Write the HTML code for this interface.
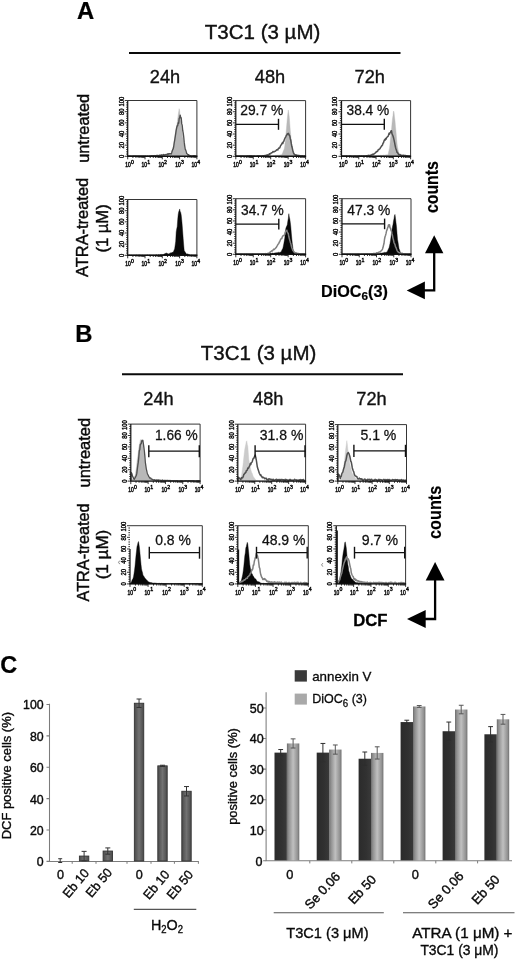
<!DOCTYPE html>
<html lang="en"><head><meta charset="utf-8"><title>Figure</title>
<style>html,body{margin:0;padding:0;background:#fff}body{width:520px;height:959px;overflow:hidden}svg{display:block;font-family:'Liberation Sans', sans-serif}</style></head><body>
<svg width="520" height="959" viewBox="0 0 520 959">
<rect width="520" height="959" fill="#fff"/>
<defs><linearGradient id="gd" x1="0" x2="1" y1="0" y2="0"><stop offset="0" stop-color="#4a4a4a"/><stop offset="0.5" stop-color="#727272"/><stop offset="1" stop-color="#4a4a4a"/></linearGradient><linearGradient id="gk" x1="0" x2="1" y1="0" y2="0"><stop offset="0" stop-color="#2b2b2b"/><stop offset="0.6" stop-color="#313131"/><stop offset="1" stop-color="#393939"/></linearGradient><linearGradient id="gl" x1="0" x2="1" y1="0" y2="0"><stop offset="0" stop-color="#6c6c6c"/><stop offset="0.14" stop-color="#8e8e8e"/><stop offset="0.5" stop-color="#c0c0c0"/><stop offset="0.86" stop-color="#929292"/><stop offset="1" stop-color="#707070"/></linearGradient></defs>
<text x="77.00" y="18.80" font-size="23.5" text-anchor="start" fill="#000" stroke="#000" stroke-width="0.24" font-weight="bold" textLength="17.20" lengthAdjust="spacingAndGlyphs" >A</text>
<text x="204.80" y="39.30" font-size="20.5" text-anchor="start" fill="#111" stroke="#111" stroke-width="0.39" textLength="115.50" lengthAdjust="spacingAndGlyphs" >T3C1 (3 µM)</text>
<line x1="129" y1="53" x2="400.5" y2="53" stroke="#0a0a0a" stroke-width="2"/>
<text x="165.00" y="82.60" font-size="18.2" text-anchor="middle" fill="#111" stroke="#111" stroke-width="0.35" >24h</text>
<text x="270.00" y="82.60" font-size="18.2" text-anchor="middle" fill="#111" stroke="#111" stroke-width="0.35" >48h</text>
<text x="369.80" y="82.60" font-size="18.2" text-anchor="middle" fill="#111" stroke="#111" stroke-width="0.35" >72h</text>
<text x="89.00" y="162.80" font-size="16" text-anchor="start" fill="#0a0a0a" stroke="#0a0a0a" stroke-width="0.42" transform="rotate(-90 89.00 162.80)" textLength="69.00" lengthAdjust="spacingAndGlyphs" >untreated</text>
<text x="88.30" y="277.00" font-size="16" text-anchor="start" fill="#0a0a0a" stroke="#0a0a0a" stroke-width="0.42" transform="rotate(-90 88.30 277.00)" textLength="99.20" lengthAdjust="spacingAndGlyphs" >ATRA-treated</text>
<text x="108.10" y="252.50" font-size="16" text-anchor="start" fill="#0a0a0a" stroke="#0a0a0a" stroke-width="0.42" transform="rotate(-90 108.10 252.50)" textLength="48.20" lengthAdjust="spacingAndGlyphs" >(1 µM)</text>
<g>
<rect x="127.70" y="100.50" width="69.20" height="55.80" fill="#fff"/>
<path d="M127.70 156.30 L127.70 156.02 L128.20 156.03 L128.70 155.86 L129.20 156.10 L129.70 155.91 L130.20 155.96 L130.70 155.96 L131.20 155.87 L131.70 156.08 L132.20 156.04 L132.70 155.83 L133.20 155.98 L133.70 155.83 L134.20 155.94 L134.70 156.06 L135.20 156.07 L135.70 156.04 L136.20 156.08 L136.70 155.81 L137.20 155.86 L137.70 155.90 L138.20 155.87 L138.70 155.89 L139.20 155.95 L139.70 156.04 L140.20 156.04 L140.70 156.05 L141.20 155.80 L141.70 156.04 L142.20 155.91 L142.70 155.81 L143.20 155.91 L143.70 155.77 L144.20 156.03 L144.70 155.99 L145.20 155.78 L145.70 155.97 L146.20 155.73 L146.70 155.73 L147.20 155.81 L147.70 156.00 L148.20 156.01 L148.70 155.74 L149.20 155.71 L149.70 155.84 L150.20 155.74 L150.70 155.98 L151.20 155.99 L151.70 155.79 L152.20 155.85 L152.70 155.86 L153.20 155.87 L153.70 155.81 L154.20 155.89 L154.70 155.77 L155.20 155.81 L155.70 155.67 L156.20 155.84 L156.70 155.86 L157.20 155.67 L157.70 155.79 L158.20 155.72 L158.70 155.76 L159.20 155.39 L159.70 155.82 L160.20 155.48 L160.70 155.30 L161.20 155.24 L161.70 155.34 L162.20 155.14 L162.70 154.82 L163.20 155.19 L163.70 154.84 L164.20 154.72 L164.70 154.84 L165.20 154.52 L165.70 154.65 L166.20 154.60 L166.70 154.38 L167.20 154.69 L167.70 154.45 L168.20 154.29 L168.70 154.24 L169.20 154.54 L169.70 154.25 L170.20 154.32 L170.70 154.09 L171.20 153.53 L171.70 151.75 L172.20 150.44 L172.70 148.83 L173.20 146.75 L173.70 146.00 L174.20 141.65 L174.70 138.66 L175.20 133.90 L175.70 131.11 L176.20 128.05 L176.70 125.83 L177.20 122.88 L177.70 118.99 L178.20 114.98 L178.70 111.85 L179.20 108.67 L179.70 111.51 L180.20 117.44 L180.70 119.75 L181.20 122.92 L181.70 128.24 L182.20 131.91 L182.70 136.72 L183.20 139.80 L183.70 143.07 L184.20 146.76 L184.70 149.32 L185.20 150.53 L185.70 151.73 L186.20 153.92 L186.70 154.94 L187.20 155.20 L187.70 155.28 L188.20 155.11 L188.70 155.36 L189.20 155.45 L189.70 155.91 L190.20 155.92 L190.70 155.86 L191.20 155.97 L191.70 155.88 L192.20 155.89 L192.70 155.97 L193.20 155.90 L193.70 155.87 L194.20 156.00 L194.70 155.92 L195.20 156.00 L195.70 155.95 L196.20 156.05 L196.70 156.06 L196.90 156.30 Z" fill="#b8b8b8" stroke="#b8b8b8" stroke-width="0.4" stroke-linejoin="round"/>
<path d="M127.70 155.83 L128.20 155.85 L128.70 155.97 L129.20 156.13 L129.70 155.87 L130.20 155.90 L130.70 155.83 L131.20 156.20 L131.70 156.13 L132.20 155.85 L132.70 156.06 L133.20 156.15 L133.70 155.80 L134.20 156.07 L134.70 155.85 L135.20 155.82 L135.70 156.15 L136.20 155.91 L136.70 156.02 L137.20 156.15 L137.70 155.96 L138.20 155.97 L138.70 155.92 L139.20 155.79 L139.70 156.07 L140.20 156.02 L140.70 155.93 L141.20 155.85 L141.70 155.87 L142.20 155.90 L142.70 156.11 L143.20 156.03 L143.70 155.81 L144.20 155.89 L144.70 156.05 L145.20 155.93 L145.70 155.99 L146.20 156.10 L146.70 156.20 L147.20 156.20 L147.70 155.92 L148.20 156.11 L148.70 156.20 L149.20 156.14 L149.70 155.87 L150.20 155.83 L150.70 156.17 L151.20 155.71 L151.70 155.76 L152.20 155.80 L152.70 155.66 L153.20 155.75 L153.70 155.59 L154.20 155.62 L154.70 155.55 L155.20 155.70 L155.70 156.12 L156.20 155.67 L156.70 155.50 L157.20 155.52 L157.70 155.47 L158.20 155.47 L158.70 155.84 L159.20 155.42 L159.70 155.23 L160.20 155.12 L160.70 155.64 L161.20 154.84 L161.70 155.15 L162.20 154.91 L162.70 155.06 L163.20 155.08 L163.70 154.44 L164.20 155.10 L164.70 154.98 L165.20 154.74 L165.70 154.59 L166.20 154.42 L166.70 154.52 L167.20 154.72 L167.70 153.78 L168.20 154.50 L168.70 153.64 L169.20 153.59 L169.70 153.97 L170.20 153.61 L170.70 153.77 L171.20 153.98 L171.70 152.67 L172.20 151.04 L172.70 149.71 L173.20 148.91 L173.70 146.49 L174.20 142.93 L174.70 140.05 L175.20 136.91 L175.70 133.64 L176.20 130.10 L176.70 127.75 L177.20 125.67 L177.70 125.70 L178.20 122.61 L178.70 123.19 L179.20 118.42 L179.70 117.74 L180.20 115.12 L180.70 117.83 L181.20 117.76 L181.70 123.65 L182.20 125.33 L182.70 130.46 L183.20 132.86 L183.70 136.76 L184.20 142.14 L184.70 145.93 L185.20 149.17 L185.70 150.05 L186.20 151.64 L186.70 153.71 L187.20 153.91 L187.70 154.67 L188.20 155.02 L188.70 154.66 L189.20 155.59 L189.70 155.72 L190.20 155.70 L190.70 155.74 L191.20 156.06 L191.70 155.90 L192.20 155.92 L192.70 155.82 L193.20 155.65 L193.70 155.77 L194.20 155.71 L194.70 155.77 L195.20 155.79 L195.70 155.91 L196.20 155.93 L196.70 155.81" fill="none" stroke="#4f4f4f" stroke-width="1.35" stroke-linejoin="round"/>
<path d="M127.70 100.50H196.90V156.30" fill="none" stroke="#2a2a2a" stroke-width="0.95"/>
<line x1="127.70" y1="100.50" x2="127.70" y2="156.30" stroke="#1a1a1a" stroke-width="1.25"/>
<line x1="127.10" y1="156.30" x2="197.40" y2="156.30" stroke="#111" stroke-width="1.4"/>
<path d="M127.70 156.30v3.0 M132.91 156.30v1.7 M135.95 156.30v1.7 M138.12 156.30v1.7 M139.79 156.30v1.7 M141.16 156.30v1.7 M142.32 156.30v1.7 M143.32 156.30v1.7 M144.21 156.30v1.7 M145.00 156.30v3.0 M150.21 156.30v1.7 M153.25 156.30v1.7 M155.42 156.30v1.7 M157.09 156.30v1.7 M158.46 156.30v1.7 M159.62 156.30v1.7 M160.62 156.30v1.7 M161.51 156.30v1.7 M162.30 156.30v3.0 M167.51 156.30v1.7 M170.55 156.30v1.7 M172.72 156.30v1.7 M174.39 156.30v1.7 M175.76 156.30v1.7 M176.92 156.30v1.7 M177.92 156.30v1.7 M178.81 156.30v1.7 M179.60 156.30v3.0 M184.81 156.30v1.7 M187.85 156.30v1.7 M190.02 156.30v1.7 M191.69 156.30v1.7 M193.06 156.30v1.7 M194.22 156.30v1.7 M195.22 156.30v1.7 M196.11 156.30v1.7 M196.90 156.30v3.0" stroke="#111" stroke-width="0.85" fill="none"/>
<path d="M127.70 156.30h-3.0 M127.70 154.07h-1.6 M127.70 151.84h-1.6 M127.70 149.60h-1.6 M127.70 147.37h-1.6 M127.70 145.14h-3.0 M127.70 142.91h-1.6 M127.70 140.68h-1.6 M127.70 138.44h-1.6 M127.70 136.21h-1.6 M127.70 133.98h-3.0 M127.70 131.75h-1.6 M127.70 129.52h-1.6 M127.70 127.28h-1.6 M127.70 125.05h-1.6 M127.70 122.82h-3.0 M127.70 120.59h-1.6 M127.70 118.36h-1.6 M127.70 116.12h-1.6 M127.70 113.89h-1.6 M127.70 111.66h-3.0 M127.70 109.43h-1.6 M127.70 107.20h-1.6 M127.70 104.96h-1.6 M127.70 102.73h-1.6 M127.70 100.50h-3.0" stroke="#111" stroke-width="0.85" fill="none"/>
<text x="125.20" y="167.10" font-size="6.9" fill="#0a0a0a" stroke="#0a0a0a" stroke-width="0.5" textLength="5.5" lengthAdjust="spacingAndGlyphs">10</text>
<text x="130.90" y="163.70" font-size="5.5" fill="#0a0a0a" stroke="#0a0a0a" stroke-width="0.42" textLength="2.9" lengthAdjust="spacingAndGlyphs">0</text>
<text x="141.50" y="167.10" font-size="6.9" fill="#0a0a0a" stroke="#0a0a0a" stroke-width="0.5" textLength="5.5" lengthAdjust="spacingAndGlyphs">10</text>
<text x="147.20" y="163.70" font-size="5.5" fill="#0a0a0a" stroke="#0a0a0a" stroke-width="0.42" textLength="2.9" lengthAdjust="spacingAndGlyphs">1</text>
<text x="158.40" y="167.10" font-size="6.9" fill="#0a0a0a" stroke="#0a0a0a" stroke-width="0.5" textLength="5.5" lengthAdjust="spacingAndGlyphs">10</text>
<text x="164.10" y="163.70" font-size="5.5" fill="#0a0a0a" stroke="#0a0a0a" stroke-width="0.42" textLength="2.9" lengthAdjust="spacingAndGlyphs">2</text>
<text x="175.30" y="167.10" font-size="6.9" fill="#0a0a0a" stroke="#0a0a0a" stroke-width="0.5" textLength="5.5" lengthAdjust="spacingAndGlyphs">10</text>
<text x="181.00" y="163.70" font-size="5.5" fill="#0a0a0a" stroke="#0a0a0a" stroke-width="0.42" textLength="2.9" lengthAdjust="spacingAndGlyphs">3</text>
<text x="191.60" y="167.10" font-size="6.9" fill="#0a0a0a" stroke="#0a0a0a" stroke-width="0.5" textLength="5.5" lengthAdjust="spacingAndGlyphs">10</text>
<text x="197.30" y="163.70" font-size="5.5" fill="#0a0a0a" stroke="#0a0a0a" stroke-width="0.42" textLength="2.9" lengthAdjust="spacingAndGlyphs">4</text>
<text x="123.70" y="157.93" font-size="8.0" fill="#0a0a0a" stroke="#0a0a0a" stroke-width="0.4" textLength="3.25" lengthAdjust="spacingAndGlyphs" transform="rotate(-90 123.70 157.93)">0</text>
<text x="123.70" y="148.39" font-size="8.0" fill="#0a0a0a" stroke="#0a0a0a" stroke-width="0.4" textLength="6.50" lengthAdjust="spacingAndGlyphs" transform="rotate(-90 123.70 148.39)">20</text>
<text x="123.70" y="137.23" font-size="8.0" fill="#0a0a0a" stroke="#0a0a0a" stroke-width="0.4" textLength="6.50" lengthAdjust="spacingAndGlyphs" transform="rotate(-90 123.70 137.23)">40</text>
<text x="123.70" y="126.07" font-size="8.0" fill="#0a0a0a" stroke="#0a0a0a" stroke-width="0.4" textLength="6.50" lengthAdjust="spacingAndGlyphs" transform="rotate(-90 123.70 126.07)">60</text>
<text x="123.70" y="114.91" font-size="8.0" fill="#0a0a0a" stroke="#0a0a0a" stroke-width="0.4" textLength="6.50" lengthAdjust="spacingAndGlyphs" transform="rotate(-90 123.70 114.91)">80</text>
<text x="123.70" y="106.38" font-size="8.0" fill="#0a0a0a" stroke="#0a0a0a" stroke-width="0.4" textLength="9.75" lengthAdjust="spacingAndGlyphs" transform="rotate(-90 123.70 106.38)">100</text>
</g>
<g>
<rect x="235.80" y="100.60" width="69.80" height="55.70" fill="#fff"/>
<path d="M235.80 156.30 L235.80 156.07 L236.30 156.13 L236.80 156.12 L237.30 155.99 L237.80 156.03 L238.30 155.87 L238.80 155.92 L239.30 156.01 L239.80 155.91 L240.30 156.12 L240.80 155.88 L241.30 155.87 L241.80 155.87 L242.30 156.10 L242.80 155.90 L243.30 156.08 L243.80 156.12 L244.30 156.03 L244.80 156.11 L245.30 156.11 L245.80 155.91 L246.30 155.87 L246.80 155.84 L247.30 156.00 L247.80 156.03 L248.30 155.91 L248.80 155.95 L249.30 155.96 L249.80 155.83 L250.30 155.81 L250.80 156.06 L251.30 156.05 L251.80 155.98 L252.30 155.83 L252.80 156.09 L253.30 156.03 L253.80 156.08 L254.30 155.91 L254.80 156.03 L255.30 156.03 L255.80 156.05 L256.30 156.08 L256.80 155.90 L257.30 156.06 L257.80 156.07 L258.30 155.88 L258.80 155.84 L259.30 155.84 L259.80 156.08 L260.30 155.80 L260.80 155.93 L261.30 155.85 L261.80 156.02 L262.30 155.90 L262.80 156.06 L263.30 155.93 L263.80 155.81 L264.30 156.05 L264.80 156.00 L265.30 155.90 L265.80 156.03 L266.30 155.90 L266.80 156.01 L267.30 155.89 L267.80 155.98 L268.30 155.85 L268.80 155.80 L269.30 156.06 L269.80 155.94 L270.30 155.86 L270.80 155.84 L271.30 156.01 L271.80 155.99 L272.30 155.90 L272.80 155.83 L273.30 155.80 L273.80 155.58 L274.30 155.60 L274.80 155.68 L275.30 155.37 L275.80 155.28 L276.30 155.28 L276.80 155.31 L277.30 155.24 L277.80 155.11 L278.30 155.15 L278.80 155.13 L279.30 154.96 L279.80 155.07 L280.30 154.79 L280.80 154.94 L281.30 154.63 L281.80 154.74 L282.30 153.60 L282.80 152.51 L283.30 151.12 L283.80 150.03 L284.30 148.67 L284.80 145.81 L285.30 140.97 L285.80 136.22 L286.30 130.25 L286.80 124.30 L287.30 118.66 L287.80 114.07 L288.30 109.99 L288.80 113.55 L289.30 117.31 L289.80 124.26 L290.30 130.99 L290.80 136.00 L291.30 141.28 L291.80 145.59 L292.30 148.49 L292.80 150.28 L293.30 152.27 L293.80 153.55 L294.30 154.75 L294.80 154.71 L295.30 155.17 L295.80 155.63 L296.30 155.49 L296.80 155.65 L297.30 155.93 L297.80 155.80 L298.30 156.03 L298.80 155.90 L299.30 155.87 L299.80 155.89 L300.30 156.06 L300.80 155.87 L301.30 155.94 L301.80 155.90 L302.30 155.95 L302.80 155.96 L303.30 156.01 L303.80 155.92 L304.30 156.08 L304.80 156.01 L305.30 156.13 L305.60 156.30 Z" fill="#b8b8b8" stroke="#b8b8b8" stroke-width="0.4" stroke-linejoin="round"/>
<path d="M235.80 156.14 L236.30 155.89 L236.80 156.09 L237.30 156.12 L237.80 156.12 L238.30 156.14 L238.80 155.96 L239.30 156.08 L239.80 156.03 L240.30 155.89 L240.80 156.08 L241.30 155.92 L241.80 156.14 L242.30 155.97 L242.80 155.87 L243.30 155.90 L243.80 156.03 L244.30 156.08 L244.80 156.20 L245.30 156.00 L245.80 156.09 L246.30 156.21 L246.80 155.95 L247.30 155.91 L247.80 155.81 L248.30 156.00 L248.80 156.08 L249.30 155.87 L249.80 155.84 L250.30 156.17 L250.80 155.78 L251.30 155.78 L251.80 156.19 L252.30 155.91 L252.80 155.95 L253.30 156.23 L253.80 155.98 L254.30 155.95 L254.80 155.87 L255.30 156.17 L255.80 156.17 L256.30 156.15 L256.80 156.00 L257.30 156.09 L257.80 155.82 L258.30 155.89 L258.80 156.13 L259.30 155.79 L259.80 156.05 L260.30 155.89 L260.80 156.19 L261.30 155.97 L261.80 156.04 L262.30 155.95 L262.80 155.73 L263.30 155.73 L263.80 155.65 L264.30 156.09 L264.80 155.47 L265.30 155.37 L265.80 155.46 L266.30 155.77 L266.80 154.90 L267.30 154.86 L267.80 155.42 L268.30 155.05 L268.80 154.89 L269.30 153.70 L269.80 154.29 L270.30 153.40 L270.80 153.38 L271.30 152.87 L271.80 152.63 L272.30 152.60 L272.80 151.76 L273.30 151.45 L273.80 151.88 L274.30 151.70 L274.80 151.17 L275.30 151.23 L275.80 150.78 L276.30 150.36 L276.80 149.67 L277.30 149.79 L277.80 149.90 L278.30 148.50 L278.80 148.07 L279.30 148.14 L279.80 147.88 L280.30 146.24 L280.80 145.32 L281.30 144.73 L281.80 143.93 L282.30 142.78 L282.80 143.55 L283.30 141.78 L283.80 141.21 L284.30 139.71 L284.80 138.52 L285.30 137.51 L285.80 136.88 L286.30 135.37 L286.80 135.06 L287.30 133.87 L287.80 134.12 L288.30 133.32 L288.80 134.00 L289.30 135.38 L289.80 135.80 L290.30 138.69 L290.80 140.30 L291.30 143.72 L291.80 146.27 L292.30 148.18 L292.80 150.60 L293.30 152.31 L293.80 153.61 L294.30 154.09 L294.80 154.74 L295.30 154.66 L295.80 155.39 L296.30 155.30 L296.80 154.94 L297.30 155.76 L297.80 155.76 L298.30 155.49 L298.80 155.70 L299.30 155.41 L299.80 155.91 L300.30 155.76 L300.80 155.96 L301.30 155.94 L301.80 155.73 L302.30 155.72 L302.80 156.08 L303.30 156.10 L303.80 155.90 L304.30 155.87 L304.80 156.12 L305.30 155.86" fill="none" stroke="#4f4f4f" stroke-width="1.5" stroke-linejoin="round"/>
<path d="M235.80 100.60H305.60V156.30" fill="none" stroke="#2a2a2a" stroke-width="0.95"/>
<line x1="235.80" y1="100.60" x2="235.80" y2="156.30" stroke="#1a1a1a" stroke-width="1.25"/>
<line x1="235.20" y1="156.30" x2="306.10" y2="156.30" stroke="#111" stroke-width="1.4"/>
<path d="M235.80 156.30v3.0 M241.05 156.30v1.7 M244.13 156.30v1.7 M246.31 156.30v1.7 M248.00 156.30v1.7 M249.38 156.30v1.7 M250.55 156.30v1.7 M251.56 156.30v1.7 M252.45 156.30v1.7 M253.25 156.30v3.0 M258.50 156.30v1.7 M261.58 156.30v1.7 M263.76 156.30v1.7 M265.45 156.30v1.7 M266.83 156.30v1.7 M268.00 156.30v1.7 M269.01 156.30v1.7 M269.90 156.30v1.7 M270.70 156.30v3.0 M275.95 156.30v1.7 M279.03 156.30v1.7 M281.21 156.30v1.7 M282.90 156.30v1.7 M284.28 156.30v1.7 M285.45 156.30v1.7 M286.46 156.30v1.7 M287.35 156.30v1.7 M288.15 156.30v3.0 M293.40 156.30v1.7 M296.48 156.30v1.7 M298.66 156.30v1.7 M300.35 156.30v1.7 M301.73 156.30v1.7 M302.90 156.30v1.7 M303.91 156.30v1.7 M304.80 156.30v1.7 M305.60 156.30v3.0" stroke="#111" stroke-width="0.85" fill="none"/>
<path d="M235.80 156.30h-3.0 M235.80 154.07h-1.6 M235.80 151.84h-1.6 M235.80 149.62h-1.6 M235.80 147.39h-1.6 M235.80 145.16h-3.0 M235.80 142.93h-1.6 M235.80 140.70h-1.6 M235.80 138.48h-1.6 M235.80 136.25h-1.6 M235.80 134.02h-3.0 M235.80 131.79h-1.6 M235.80 129.56h-1.6 M235.80 127.34h-1.6 M235.80 125.11h-1.6 M235.80 122.88h-3.0 M235.80 120.65h-1.6 M235.80 118.42h-1.6 M235.80 116.20h-1.6 M235.80 113.97h-1.6 M235.80 111.74h-3.0 M235.80 109.51h-1.6 M235.80 107.28h-1.6 M235.80 105.06h-1.6 M235.80 102.83h-1.6 M235.80 100.60h-3.0" stroke="#111" stroke-width="0.85" fill="none"/>
<text x="233.30" y="167.10" font-size="6.9" fill="#0a0a0a" stroke="#0a0a0a" stroke-width="0.5" textLength="5.5" lengthAdjust="spacingAndGlyphs">10</text>
<text x="239.00" y="163.70" font-size="5.5" fill="#0a0a0a" stroke="#0a0a0a" stroke-width="0.42" textLength="2.9" lengthAdjust="spacingAndGlyphs">0</text>
<text x="249.75" y="167.10" font-size="6.9" fill="#0a0a0a" stroke="#0a0a0a" stroke-width="0.5" textLength="5.5" lengthAdjust="spacingAndGlyphs">10</text>
<text x="255.45" y="163.70" font-size="5.5" fill="#0a0a0a" stroke="#0a0a0a" stroke-width="0.42" textLength="2.9" lengthAdjust="spacingAndGlyphs">1</text>
<text x="266.80" y="167.10" font-size="6.9" fill="#0a0a0a" stroke="#0a0a0a" stroke-width="0.5" textLength="5.5" lengthAdjust="spacingAndGlyphs">10</text>
<text x="272.50" y="163.70" font-size="5.5" fill="#0a0a0a" stroke="#0a0a0a" stroke-width="0.42" textLength="2.9" lengthAdjust="spacingAndGlyphs">2</text>
<text x="283.85" y="167.10" font-size="6.9" fill="#0a0a0a" stroke="#0a0a0a" stroke-width="0.5" textLength="5.5" lengthAdjust="spacingAndGlyphs">10</text>
<text x="289.55" y="163.70" font-size="5.5" fill="#0a0a0a" stroke="#0a0a0a" stroke-width="0.42" textLength="2.9" lengthAdjust="spacingAndGlyphs">3</text>
<text x="300.30" y="167.10" font-size="6.9" fill="#0a0a0a" stroke="#0a0a0a" stroke-width="0.5" textLength="5.5" lengthAdjust="spacingAndGlyphs">10</text>
<text x="306.00" y="163.70" font-size="5.5" fill="#0a0a0a" stroke="#0a0a0a" stroke-width="0.42" textLength="2.9" lengthAdjust="spacingAndGlyphs">4</text>
<text x="231.80" y="157.93" font-size="8.0" fill="#0a0a0a" stroke="#0a0a0a" stroke-width="0.4" textLength="3.25" lengthAdjust="spacingAndGlyphs" transform="rotate(-90 231.80 157.93)">0</text>
<text x="231.80" y="148.41" font-size="8.0" fill="#0a0a0a" stroke="#0a0a0a" stroke-width="0.4" textLength="6.50" lengthAdjust="spacingAndGlyphs" transform="rotate(-90 231.80 148.41)">20</text>
<text x="231.80" y="137.27" font-size="8.0" fill="#0a0a0a" stroke="#0a0a0a" stroke-width="0.4" textLength="6.50" lengthAdjust="spacingAndGlyphs" transform="rotate(-90 231.80 137.27)">40</text>
<text x="231.80" y="126.13" font-size="8.0" fill="#0a0a0a" stroke="#0a0a0a" stroke-width="0.4" textLength="6.50" lengthAdjust="spacingAndGlyphs" transform="rotate(-90 231.80 126.13)">60</text>
<text x="231.80" y="114.99" font-size="8.0" fill="#0a0a0a" stroke="#0a0a0a" stroke-width="0.4" textLength="6.50" lengthAdjust="spacingAndGlyphs" transform="rotate(-90 231.80 114.99)">80</text>
<text x="231.80" y="106.47" font-size="8.0" fill="#0a0a0a" stroke="#0a0a0a" stroke-width="0.4" textLength="9.75" lengthAdjust="spacingAndGlyphs" transform="rotate(-90 231.80 106.47)">100</text>
<line x1="235.80" y1="124.30" x2="278.50" y2="124.30" stroke="#111" stroke-width="1.3"/>
<line x1="278.50" y1="118.80" x2="278.50" y2="129.80" stroke="#111" stroke-width="1.4"/>
<text x="240.20" y="115.20" font-size="14.2" text-anchor="start" fill="#111" stroke="#111" stroke-width="0.27" textLength="43.20" lengthAdjust="spacingAndGlyphs" >29.7 %</text>
</g>
<g>
<rect x="341.50" y="100.60" width="69.10" height="55.70" fill="#fff"/>
<path d="M341.50 156.30 L341.50 155.90 L342.00 155.87 L342.50 155.96 L343.00 156.00 L343.50 155.98 L344.00 155.88 L344.50 156.09 L345.00 155.91 L345.50 156.12 L346.00 155.95 L346.50 155.84 L347.00 155.92 L347.50 155.87 L348.00 156.08 L348.50 156.01 L349.00 155.94 L349.50 155.85 L350.00 155.89 L350.50 155.95 L351.00 156.00 L351.50 155.91 L352.00 156.03 L352.50 155.99 L353.00 156.08 L353.50 155.90 L354.00 155.84 L354.50 156.04 L355.00 155.96 L355.50 156.02 L356.00 155.98 L356.50 155.90 L357.00 155.98 L357.50 155.94 L358.00 156.08 L358.50 156.00 L359.00 156.02 L359.50 156.09 L360.00 155.88 L360.50 156.00 L361.00 155.94 L361.50 155.83 L362.00 156.03 L362.50 155.87 L363.00 156.05 L363.50 155.93 L364.00 156.05 L364.50 156.04 L365.00 155.91 L365.50 156.05 L366.00 155.82 L366.50 155.85 L367.00 155.93 L367.50 155.85 L368.00 155.91 L368.50 155.94 L369.00 155.97 L369.50 155.95 L370.00 155.78 L370.50 155.99 L371.00 156.00 L371.50 155.88 L372.00 155.96 L372.50 155.79 L373.00 155.81 L373.50 155.78 L374.00 155.81 L374.50 155.87 L375.00 156.02 L375.50 155.79 L376.00 155.86 L376.50 155.73 L377.00 155.92 L377.50 155.72 L378.00 155.44 L378.50 155.47 L379.00 155.34 L379.50 155.78 L380.00 155.22 L380.50 155.09 L381.00 155.60 L381.50 155.36 L382.00 155.13 L382.50 155.34 L383.00 155.30 L383.50 154.94 L384.00 155.34 L384.50 155.20 L385.00 155.13 L385.50 154.99 L386.00 154.66 L386.50 154.79 L387.00 155.00 L387.50 154.77 L388.00 155.07 L388.50 152.46 L389.00 150.33 L389.50 148.16 L390.00 144.00 L390.50 138.61 L391.00 133.93 L391.50 129.51 L392.00 123.71 L392.50 118.79 L393.00 115.51 L393.50 111.04 L394.00 111.91 L394.50 117.08 L395.00 120.85 L395.50 126.86 L396.00 131.69 L396.50 138.11 L397.00 143.25 L397.50 147.19 L398.00 149.26 L398.50 151.79 L399.00 154.39 L399.50 155.01 L400.00 154.81 L400.50 155.11 L401.00 155.51 L401.50 155.63 L402.00 156.03 L402.50 155.90 L403.00 156.03 L403.50 156.04 L404.00 155.93 L404.50 155.78 L405.00 155.84 L405.50 156.04 L406.00 155.94 L406.50 155.97 L407.00 155.97 L407.50 156.05 L408.00 155.99 L408.50 155.91 L409.00 155.98 L409.50 156.06 L410.00 155.97 L410.50 156.00 L410.60 156.30 Z" fill="#b8b8b8" stroke="#b8b8b8" stroke-width="0.4" stroke-linejoin="round"/>
<path d="M341.50 156.21 L342.00 156.10 L342.50 155.90 L343.00 155.86 L343.50 155.98 L344.00 156.00 L344.50 156.16 L345.00 155.89 L345.50 155.91 L346.00 156.18 L346.50 155.83 L347.00 156.23 L347.50 156.06 L348.00 156.08 L348.50 156.09 L349.00 156.07 L349.50 156.03 L350.00 155.81 L350.50 155.98 L351.00 156.21 L351.50 156.10 L352.00 155.89 L352.50 156.17 L353.00 156.13 L353.50 156.10 L354.00 156.20 L354.50 155.99 L355.00 155.85 L355.50 156.00 L356.00 156.19 L356.50 156.09 L357.00 155.89 L357.50 155.94 L358.00 155.97 L358.50 156.15 L359.00 155.84 L359.50 155.85 L360.00 156.21 L360.50 156.13 L361.00 155.79 L361.50 155.92 L362.00 155.98 L362.50 155.97 L363.00 155.96 L363.50 155.90 L364.00 155.82 L364.50 156.02 L365.00 156.14 L365.50 156.05 L366.00 155.70 L366.50 155.72 L367.00 155.86 L367.50 155.70 L368.00 155.49 L368.50 155.41 L369.00 155.20 L369.50 155.81 L370.00 155.60 L370.50 155.95 L371.00 154.95 L371.50 155.08 L372.00 154.56 L372.50 154.76 L373.00 154.09 L373.50 154.40 L374.00 153.90 L374.50 153.63 L375.00 153.19 L375.50 152.56 L376.00 152.52 L376.50 151.43 L377.00 151.39 L377.50 151.50 L378.00 150.28 L378.50 149.53 L379.00 149.57 L379.50 148.89 L380.00 148.81 L380.50 147.59 L381.00 146.96 L381.50 146.08 L382.00 145.62 L382.50 144.94 L383.00 143.17 L383.50 142.81 L384.00 141.04 L384.50 139.87 L385.00 140.29 L385.50 138.56 L386.00 139.10 L386.50 137.87 L387.00 137.26 L387.50 136.80 L388.00 136.36 L388.50 135.24 L389.00 133.39 L389.50 134.21 L390.00 132.69 L390.50 132.54 L391.00 130.91 L391.50 130.70 L392.00 133.76 L392.50 134.73 L393.00 136.00 L393.50 137.66 L394.00 139.91 L394.50 142.06 L395.00 144.86 L395.50 147.25 L396.00 148.96 L396.50 150.40 L397.00 152.22 L397.50 152.19 L398.00 153.58 L398.50 154.16 L399.00 154.63 L399.50 154.80 L400.00 154.46 L400.50 155.27 L401.00 155.00 L401.50 155.53 L402.00 155.49 L402.50 155.35 L403.00 155.41 L403.50 155.26 L404.00 155.50 L404.50 155.49 L405.00 155.71 L405.50 155.59 L406.00 155.74 L406.50 155.99 L407.00 155.72 L407.50 156.06 L408.00 156.02 L408.50 156.18 L409.00 155.98 L409.50 156.19 L410.00 156.18 L410.50 155.93" fill="none" stroke="#4f4f4f" stroke-width="1.5" stroke-linejoin="round"/>
<path d="M341.50 100.60H410.60V156.30" fill="none" stroke="#2a2a2a" stroke-width="0.95"/>
<line x1="341.50" y1="100.60" x2="341.50" y2="156.30" stroke="#1a1a1a" stroke-width="1.25"/>
<line x1="340.90" y1="156.30" x2="411.10" y2="156.30" stroke="#111" stroke-width="1.4"/>
<path d="M341.50 156.30v3.0 M346.70 156.30v1.7 M349.74 156.30v1.7 M351.90 156.30v1.7 M353.57 156.30v1.7 M354.94 156.30v1.7 M356.10 156.30v1.7 M357.10 156.30v1.7 M357.98 156.30v1.7 M358.77 156.30v3.0 M363.98 156.30v1.7 M367.02 156.30v1.7 M369.18 156.30v1.7 M370.85 156.30v1.7 M372.22 156.30v1.7 M373.37 156.30v1.7 M374.38 156.30v1.7 M375.26 156.30v1.7 M376.05 156.30v3.0 M381.25 156.30v1.7 M384.29 156.30v1.7 M386.45 156.30v1.7 M388.12 156.30v1.7 M389.49 156.30v1.7 M390.65 156.30v1.7 M391.65 156.30v1.7 M392.53 156.30v1.7 M393.33 156.30v3.0 M398.53 156.30v1.7 M401.57 156.30v1.7 M403.73 156.30v1.7 M405.40 156.30v1.7 M406.77 156.30v1.7 M407.92 156.30v1.7 M408.93 156.30v1.7 M409.81 156.30v1.7 M410.60 156.30v3.0" stroke="#111" stroke-width="0.85" fill="none"/>
<path d="M341.50 156.30h-3.0 M341.50 154.07h-1.6 M341.50 151.84h-1.6 M341.50 149.62h-1.6 M341.50 147.39h-1.6 M341.50 145.16h-3.0 M341.50 142.93h-1.6 M341.50 140.70h-1.6 M341.50 138.48h-1.6 M341.50 136.25h-1.6 M341.50 134.02h-3.0 M341.50 131.79h-1.6 M341.50 129.56h-1.6 M341.50 127.34h-1.6 M341.50 125.11h-1.6 M341.50 122.88h-3.0 M341.50 120.65h-1.6 M341.50 118.42h-1.6 M341.50 116.20h-1.6 M341.50 113.97h-1.6 M341.50 111.74h-3.0 M341.50 109.51h-1.6 M341.50 107.28h-1.6 M341.50 105.06h-1.6 M341.50 102.83h-1.6 M341.50 100.60h-3.0" stroke="#111" stroke-width="0.85" fill="none"/>
<text x="339.00" y="167.10" font-size="6.9" fill="#0a0a0a" stroke="#0a0a0a" stroke-width="0.5" textLength="5.5" lengthAdjust="spacingAndGlyphs">10</text>
<text x="344.70" y="163.70" font-size="5.5" fill="#0a0a0a" stroke="#0a0a0a" stroke-width="0.42" textLength="2.9" lengthAdjust="spacingAndGlyphs">0</text>
<text x="355.27" y="167.10" font-size="6.9" fill="#0a0a0a" stroke="#0a0a0a" stroke-width="0.5" textLength="5.5" lengthAdjust="spacingAndGlyphs">10</text>
<text x="360.97" y="163.70" font-size="5.5" fill="#0a0a0a" stroke="#0a0a0a" stroke-width="0.42" textLength="2.9" lengthAdjust="spacingAndGlyphs">1</text>
<text x="372.15" y="167.10" font-size="6.9" fill="#0a0a0a" stroke="#0a0a0a" stroke-width="0.5" textLength="5.5" lengthAdjust="spacingAndGlyphs">10</text>
<text x="377.85" y="163.70" font-size="5.5" fill="#0a0a0a" stroke="#0a0a0a" stroke-width="0.42" textLength="2.9" lengthAdjust="spacingAndGlyphs">2</text>
<text x="389.03" y="167.10" font-size="6.9" fill="#0a0a0a" stroke="#0a0a0a" stroke-width="0.5" textLength="5.5" lengthAdjust="spacingAndGlyphs">10</text>
<text x="394.73" y="163.70" font-size="5.5" fill="#0a0a0a" stroke="#0a0a0a" stroke-width="0.42" textLength="2.9" lengthAdjust="spacingAndGlyphs">3</text>
<text x="405.30" y="167.10" font-size="6.9" fill="#0a0a0a" stroke="#0a0a0a" stroke-width="0.5" textLength="5.5" lengthAdjust="spacingAndGlyphs">10</text>
<text x="411.00" y="163.70" font-size="5.5" fill="#0a0a0a" stroke="#0a0a0a" stroke-width="0.42" textLength="2.9" lengthAdjust="spacingAndGlyphs">4</text>
<text x="337.50" y="157.93" font-size="8.0" fill="#0a0a0a" stroke="#0a0a0a" stroke-width="0.4" textLength="3.25" lengthAdjust="spacingAndGlyphs" transform="rotate(-90 337.50 157.93)">0</text>
<text x="337.50" y="148.41" font-size="8.0" fill="#0a0a0a" stroke="#0a0a0a" stroke-width="0.4" textLength="6.50" lengthAdjust="spacingAndGlyphs" transform="rotate(-90 337.50 148.41)">20</text>
<text x="337.50" y="137.27" font-size="8.0" fill="#0a0a0a" stroke="#0a0a0a" stroke-width="0.4" textLength="6.50" lengthAdjust="spacingAndGlyphs" transform="rotate(-90 337.50 137.27)">40</text>
<text x="337.50" y="126.13" font-size="8.0" fill="#0a0a0a" stroke="#0a0a0a" stroke-width="0.4" textLength="6.50" lengthAdjust="spacingAndGlyphs" transform="rotate(-90 337.50 126.13)">60</text>
<text x="337.50" y="114.99" font-size="8.0" fill="#0a0a0a" stroke="#0a0a0a" stroke-width="0.4" textLength="6.50" lengthAdjust="spacingAndGlyphs" transform="rotate(-90 337.50 114.99)">80</text>
<text x="337.50" y="106.47" font-size="8.0" fill="#0a0a0a" stroke="#0a0a0a" stroke-width="0.4" textLength="9.75" lengthAdjust="spacingAndGlyphs" transform="rotate(-90 337.50 106.47)">100</text>
<line x1="341.50" y1="124.30" x2="384.30" y2="124.30" stroke="#111" stroke-width="1.3"/>
<line x1="384.30" y1="118.80" x2="384.30" y2="129.80" stroke="#111" stroke-width="1.4"/>
<text x="346.60" y="115.20" font-size="14.2" text-anchor="start" fill="#111" stroke="#111" stroke-width="0.27" textLength="42.60" lengthAdjust="spacingAndGlyphs" >38.4 %</text>
</g>
<g>
<rect x="127.70" y="199.50" width="69.20" height="55.80" fill="#fff"/>
<path d="M127.70 255.30 L127.70 254.96 L128.20 255.11 L128.70 255.01 L129.20 254.87 L129.70 255.03 L130.20 254.97 L130.70 254.98 L131.20 254.89 L131.70 254.89 L132.20 255.13 L132.70 255.08 L133.20 255.08 L133.70 254.94 L134.20 255.07 L134.70 254.88 L135.20 254.92 L135.70 255.10 L136.20 255.12 L136.70 254.86 L137.20 255.00 L137.70 254.98 L138.20 254.88 L138.70 254.89 L139.20 255.12 L139.70 254.86 L140.20 255.02 L140.70 254.88 L141.20 255.13 L141.70 254.97 L142.20 254.88 L142.70 254.90 L143.20 255.14 L143.70 255.02 L144.20 254.89 L144.70 255.15 L145.20 254.88 L145.70 255.13 L146.20 255.04 L146.70 254.97 L147.20 255.02 L147.70 254.87 L148.20 255.11 L148.70 254.98 L149.20 255.15 L149.70 254.85 L150.20 254.95 L150.70 254.91 L151.20 254.95 L151.70 255.04 L152.20 255.09 L152.70 255.09 L153.20 255.00 L153.70 254.92 L154.20 254.97 L154.70 255.14 L155.20 254.95 L155.70 254.92 L156.20 254.84 L156.70 254.84 L157.20 255.04 L157.70 255.00 L158.20 254.86 L158.70 254.69 L159.20 254.76 L159.70 254.90 L160.20 254.64 L160.70 254.60 L161.20 254.73 L161.70 254.40 L162.20 254.76 L162.70 254.54 L163.20 254.31 L163.70 254.49 L164.20 254.12 L164.70 253.70 L165.20 253.56 L165.70 253.30 L166.20 253.18 L166.70 253.02 L167.20 253.40 L167.70 253.61 L168.20 253.94 L168.70 253.80 L169.20 253.74 L169.70 253.27 L170.20 253.16 L170.70 252.70 L171.20 252.86 L171.70 252.86 L172.20 252.30 L172.70 252.37 L173.20 252.15 L173.70 251.04 L174.20 249.99 L174.70 248.44 L175.20 244.98 L175.70 241.35 L176.20 231.88 L176.70 228.88 L177.20 226.67 L177.70 219.66 L178.20 214.43 L178.70 211.83 L179.20 210.76 L179.70 208.96 L180.20 211.56 L180.70 212.45 L181.20 214.93 L181.70 219.48 L182.20 225.21 L182.70 232.02 L183.20 238.68 L183.70 245.00 L184.20 250.57 L184.70 251.27 L185.20 252.20 L185.70 252.83 L186.20 253.62 L186.70 254.20 L187.20 253.85 L187.70 253.91 L188.20 254.54 L188.70 254.28 L189.20 254.46 L189.70 254.81 L190.20 254.92 L190.70 255.10 L191.20 255.12 L191.70 254.87 L192.20 254.93 L192.70 255.00 L193.20 255.10 L193.70 254.91 L194.20 254.99 L194.70 255.02 L195.20 254.91 L195.70 254.95 L196.20 255.02 L196.70 255.07 L196.90 255.30 Z" fill="#080808" stroke="#080808" stroke-width="0.4" stroke-linejoin="round"/>
<path d="M127.70 199.50H196.90V255.30" fill="none" stroke="#2a2a2a" stroke-width="0.95"/>
<line x1="127.70" y1="199.50" x2="127.70" y2="255.30" stroke="#1a1a1a" stroke-width="1.25"/>
<line x1="127.10" y1="255.30" x2="197.40" y2="255.30" stroke="#111" stroke-width="1.4"/>
<path d="M127.70 255.30v3.0 M132.91 255.30v1.7 M135.95 255.30v1.7 M138.12 255.30v1.7 M139.79 255.30v1.7 M141.16 255.30v1.7 M142.32 255.30v1.7 M143.32 255.30v1.7 M144.21 255.30v1.7 M145.00 255.30v3.0 M150.21 255.30v1.7 M153.25 255.30v1.7 M155.42 255.30v1.7 M157.09 255.30v1.7 M158.46 255.30v1.7 M159.62 255.30v1.7 M160.62 255.30v1.7 M161.51 255.30v1.7 M162.30 255.30v3.0 M167.51 255.30v1.7 M170.55 255.30v1.7 M172.72 255.30v1.7 M174.39 255.30v1.7 M175.76 255.30v1.7 M176.92 255.30v1.7 M177.92 255.30v1.7 M178.81 255.30v1.7 M179.60 255.30v3.0 M184.81 255.30v1.7 M187.85 255.30v1.7 M190.02 255.30v1.7 M191.69 255.30v1.7 M193.06 255.30v1.7 M194.22 255.30v1.7 M195.22 255.30v1.7 M196.11 255.30v1.7 M196.90 255.30v3.0" stroke="#111" stroke-width="0.85" fill="none"/>
<path d="M127.70 255.30h-3.0 M127.70 253.07h-1.6 M127.70 250.84h-1.6 M127.70 248.60h-1.6 M127.70 246.37h-1.6 M127.70 244.14h-3.0 M127.70 241.91h-1.6 M127.70 239.68h-1.6 M127.70 237.44h-1.6 M127.70 235.21h-1.6 M127.70 232.98h-3.0 M127.70 230.75h-1.6 M127.70 228.52h-1.6 M127.70 226.28h-1.6 M127.70 224.05h-1.6 M127.70 221.82h-3.0 M127.70 219.59h-1.6 M127.70 217.36h-1.6 M127.70 215.12h-1.6 M127.70 212.89h-1.6 M127.70 210.66h-3.0 M127.70 208.43h-1.6 M127.70 206.20h-1.6 M127.70 203.96h-1.6 M127.70 201.73h-1.6 M127.70 199.50h-3.0" stroke="#111" stroke-width="0.85" fill="none"/>
<text x="125.20" y="266.10" font-size="6.9" fill="#0a0a0a" stroke="#0a0a0a" stroke-width="0.5" textLength="5.5" lengthAdjust="spacingAndGlyphs">10</text>
<text x="130.90" y="262.70" font-size="5.5" fill="#0a0a0a" stroke="#0a0a0a" stroke-width="0.42" textLength="2.9" lengthAdjust="spacingAndGlyphs">0</text>
<text x="141.50" y="266.10" font-size="6.9" fill="#0a0a0a" stroke="#0a0a0a" stroke-width="0.5" textLength="5.5" lengthAdjust="spacingAndGlyphs">10</text>
<text x="147.20" y="262.70" font-size="5.5" fill="#0a0a0a" stroke="#0a0a0a" stroke-width="0.42" textLength="2.9" lengthAdjust="spacingAndGlyphs">1</text>
<text x="158.40" y="266.10" font-size="6.9" fill="#0a0a0a" stroke="#0a0a0a" stroke-width="0.5" textLength="5.5" lengthAdjust="spacingAndGlyphs">10</text>
<text x="164.10" y="262.70" font-size="5.5" fill="#0a0a0a" stroke="#0a0a0a" stroke-width="0.42" textLength="2.9" lengthAdjust="spacingAndGlyphs">2</text>
<text x="175.30" y="266.10" font-size="6.9" fill="#0a0a0a" stroke="#0a0a0a" stroke-width="0.5" textLength="5.5" lengthAdjust="spacingAndGlyphs">10</text>
<text x="181.00" y="262.70" font-size="5.5" fill="#0a0a0a" stroke="#0a0a0a" stroke-width="0.42" textLength="2.9" lengthAdjust="spacingAndGlyphs">3</text>
<text x="191.60" y="266.10" font-size="6.9" fill="#0a0a0a" stroke="#0a0a0a" stroke-width="0.5" textLength="5.5" lengthAdjust="spacingAndGlyphs">10</text>
<text x="197.30" y="262.70" font-size="5.5" fill="#0a0a0a" stroke="#0a0a0a" stroke-width="0.42" textLength="2.9" lengthAdjust="spacingAndGlyphs">4</text>
<text x="123.70" y="256.93" font-size="8.0" fill="#0a0a0a" stroke="#0a0a0a" stroke-width="0.4" textLength="3.25" lengthAdjust="spacingAndGlyphs" transform="rotate(-90 123.70 256.93)">0</text>
<text x="123.70" y="247.39" font-size="8.0" fill="#0a0a0a" stroke="#0a0a0a" stroke-width="0.4" textLength="6.50" lengthAdjust="spacingAndGlyphs" transform="rotate(-90 123.70 247.39)">20</text>
<text x="123.70" y="236.23" font-size="8.0" fill="#0a0a0a" stroke="#0a0a0a" stroke-width="0.4" textLength="6.50" lengthAdjust="spacingAndGlyphs" transform="rotate(-90 123.70 236.23)">40</text>
<text x="123.70" y="225.07" font-size="8.0" fill="#0a0a0a" stroke="#0a0a0a" stroke-width="0.4" textLength="6.50" lengthAdjust="spacingAndGlyphs" transform="rotate(-90 123.70 225.07)">60</text>
<text x="123.70" y="213.91" font-size="8.0" fill="#0a0a0a" stroke="#0a0a0a" stroke-width="0.4" textLength="6.50" lengthAdjust="spacingAndGlyphs" transform="rotate(-90 123.70 213.91)">80</text>
<text x="123.70" y="205.38" font-size="8.0" fill="#0a0a0a" stroke="#0a0a0a" stroke-width="0.4" textLength="9.75" lengthAdjust="spacingAndGlyphs" transform="rotate(-90 123.70 205.38)">100</text>
</g>
<g>
<rect x="235.80" y="198.70" width="69.80" height="55.60" fill="#fff"/>
<path d="M235.80 254.30 L235.80 253.98 L236.30 253.91 L236.80 254.09 L237.30 253.90 L237.80 253.95 L238.30 254.14 L238.80 253.86 L239.30 254.03 L239.80 253.94 L240.30 253.98 L240.80 254.05 L241.30 254.08 L241.80 254.14 L242.30 253.86 L242.80 253.90 L243.30 253.94 L243.80 254.12 L244.30 254.02 L244.80 253.87 L245.30 254.10 L245.80 253.92 L246.30 253.86 L246.80 254.10 L247.30 254.01 L247.80 253.89 L248.30 253.96 L248.80 253.88 L249.30 253.88 L249.80 254.10 L250.30 253.97 L250.80 253.92 L251.30 254.04 L251.80 253.89 L252.30 253.90 L252.80 254.09 L253.30 253.99 L253.80 253.98 L254.30 254.07 L254.80 253.95 L255.30 253.99 L255.80 253.97 L256.30 254.05 L256.80 254.01 L257.30 254.00 L257.80 253.87 L258.30 253.99 L258.80 253.98 L259.30 254.01 L259.80 253.90 L260.30 254.14 L260.80 253.86 L261.30 254.02 L261.80 253.88 L262.30 253.97 L262.80 253.94 L263.30 253.90 L263.80 253.88 L264.30 253.98 L264.80 253.80 L265.30 253.92 L265.80 253.70 L266.30 253.79 L266.80 253.73 L267.30 253.66 L267.80 253.92 L268.30 253.84 L268.80 253.81 L269.30 253.82 L269.80 253.80 L270.30 253.35 L270.80 253.25 L271.30 253.68 L271.80 253.33 L272.30 253.18 L272.80 253.04 L273.30 253.41 L273.80 253.27 L274.30 253.06 L274.80 253.08 L275.30 252.77 L275.80 252.92 L276.30 252.58 L276.80 252.91 L277.30 252.69 L277.80 252.53 L278.30 252.24 L278.80 252.40 L279.30 252.39 L279.80 252.39 L280.30 252.19 L280.80 252.10 L281.30 251.45 L281.80 250.27 L282.30 249.29 L282.80 248.39 L283.30 246.15 L283.80 243.80 L284.30 240.86 L284.80 237.97 L285.30 232.07 L285.80 228.61 L286.30 227.03 L286.80 225.97 L287.30 224.75 L287.80 221.14 L288.30 218.49 L288.80 213.70 L289.30 216.93 L289.80 219.10 L290.30 222.45 L290.80 226.78 L291.30 233.06 L291.80 238.48 L292.30 243.48 L292.80 247.20 L293.30 250.59 L293.80 252.26 L294.30 252.22 L294.80 252.83 L295.30 252.52 L295.80 253.04 L296.30 253.21 L296.80 253.39 L297.30 253.93 L297.80 253.76 L298.30 253.90 L298.80 253.90 L299.30 253.77 L299.80 253.85 L300.30 253.88 L300.80 254.06 L301.30 254.00 L301.80 254.13 L302.30 253.95 L302.80 253.87 L303.30 253.95 L303.80 253.86 L304.30 254.04 L304.80 253.91 L305.30 253.86 L305.60 254.30 Z" fill="#080808" stroke="#080808" stroke-width="0.4" stroke-linejoin="round"/>
<path d="M235.80 254.03 L236.30 253.97 L236.80 254.04 L237.30 254.01 L237.80 254.13 L238.30 253.92 L238.80 254.15 L239.30 253.79 L239.80 254.20 L240.30 254.05 L240.80 253.79 L241.30 253.80 L241.80 253.89 L242.30 254.00 L242.80 254.16 L243.30 254.06 L243.80 254.07 L244.30 253.90 L244.80 254.21 L245.30 254.09 L245.80 253.88 L246.30 253.81 L246.80 253.95 L247.30 253.94 L247.80 254.15 L248.30 253.88 L248.80 253.98 L249.30 253.94 L249.80 254.07 L250.30 253.89 L250.80 253.93 L251.30 254.10 L251.80 253.90 L252.30 253.81 L252.80 253.85 L253.30 253.97 L253.80 254.11 L254.30 254.07 L254.80 253.97 L255.30 253.90 L255.80 254.13 L256.30 254.18 L256.80 253.96 L257.30 254.06 L257.80 254.23 L258.30 253.90 L258.80 253.92 L259.30 253.81 L259.80 254.05 L260.30 254.05 L260.80 253.98 L261.30 253.98 L261.80 254.16 L262.30 253.83 L262.80 254.07 L263.30 253.77 L263.80 254.06 L264.30 254.04 L264.80 253.82 L265.30 253.58 L265.80 253.95 L266.30 253.88 L266.80 253.95 L267.30 253.41 L267.80 253.78 L268.30 253.31 L268.80 253.73 L269.30 252.82 L269.80 252.32 L270.30 252.12 L270.80 251.47 L271.30 251.42 L271.80 250.73 L272.30 251.06 L272.80 250.23 L273.30 249.83 L273.80 249.13 L274.30 249.56 L274.80 248.89 L275.30 248.51 L275.80 247.82 L276.30 247.41 L276.80 246.42 L277.30 245.54 L277.80 244.60 L278.30 243.98 L278.80 243.40 L279.30 242.14 L279.80 241.64 L280.30 240.05 L280.80 239.23 L281.30 238.57 L281.80 238.53 L282.30 236.83 L282.80 236.06 L283.30 235.52 L283.80 235.51 L284.30 235.22 L284.80 234.28 L285.30 232.28 L285.80 231.20 L286.30 230.80 L286.80 230.19 L287.30 232.00 L287.80 233.00 L288.30 233.59 L288.80 236.54 L289.30 238.47 L289.80 240.38 L290.30 242.15 L290.80 243.63 L291.30 245.79 L291.80 247.78 L292.30 249.07 L292.80 250.55 L293.30 250.97 L293.80 251.54 L294.30 252.23 L294.80 252.76 L295.30 253.54 L295.80 253.22 L296.30 252.99 L296.80 253.03 L297.30 253.60 L297.80 253.91 L298.30 253.58 L298.80 253.59 L299.30 253.75 L299.80 253.77 L300.30 253.97 L300.80 254.07 L301.30 254.20 L301.80 253.86 L302.30 253.86 L302.80 254.00 L303.30 253.85 L303.80 253.94 L304.30 254.00 L304.80 254.11 L305.30 254.13" fill="none" stroke="#808080" stroke-width="1.5" stroke-linejoin="round"/>
<path d="M235.80 198.70H305.60V254.30" fill="none" stroke="#2a2a2a" stroke-width="0.95"/>
<line x1="235.80" y1="198.70" x2="235.80" y2="254.30" stroke="#1a1a1a" stroke-width="1.25"/>
<line x1="235.20" y1="254.30" x2="306.10" y2="254.30" stroke="#111" stroke-width="1.4"/>
<path d="M235.80 254.30v3.0 M241.05 254.30v1.7 M244.13 254.30v1.7 M246.31 254.30v1.7 M248.00 254.30v1.7 M249.38 254.30v1.7 M250.55 254.30v1.7 M251.56 254.30v1.7 M252.45 254.30v1.7 M253.25 254.30v3.0 M258.50 254.30v1.7 M261.58 254.30v1.7 M263.76 254.30v1.7 M265.45 254.30v1.7 M266.83 254.30v1.7 M268.00 254.30v1.7 M269.01 254.30v1.7 M269.90 254.30v1.7 M270.70 254.30v3.0 M275.95 254.30v1.7 M279.03 254.30v1.7 M281.21 254.30v1.7 M282.90 254.30v1.7 M284.28 254.30v1.7 M285.45 254.30v1.7 M286.46 254.30v1.7 M287.35 254.30v1.7 M288.15 254.30v3.0 M293.40 254.30v1.7 M296.48 254.30v1.7 M298.66 254.30v1.7 M300.35 254.30v1.7 M301.73 254.30v1.7 M302.90 254.30v1.7 M303.91 254.30v1.7 M304.80 254.30v1.7 M305.60 254.30v3.0" stroke="#111" stroke-width="0.85" fill="none"/>
<path d="M235.80 254.30h-3.0 M235.80 252.08h-1.6 M235.80 249.85h-1.6 M235.80 247.63h-1.6 M235.80 245.40h-1.6 M235.80 243.18h-3.0 M235.80 240.96h-1.6 M235.80 238.73h-1.6 M235.80 236.51h-1.6 M235.80 234.28h-1.6 M235.80 232.06h-3.0 M235.80 229.84h-1.6 M235.80 227.61h-1.6 M235.80 225.39h-1.6 M235.80 223.16h-1.6 M235.80 220.94h-3.0 M235.80 218.72h-1.6 M235.80 216.49h-1.6 M235.80 214.27h-1.6 M235.80 212.04h-1.6 M235.80 209.82h-3.0 M235.80 207.60h-1.6 M235.80 205.37h-1.6 M235.80 203.15h-1.6 M235.80 200.92h-1.6 M235.80 198.70h-3.0" stroke="#111" stroke-width="0.85" fill="none"/>
<text x="233.30" y="265.10" font-size="6.9" fill="#0a0a0a" stroke="#0a0a0a" stroke-width="0.5" textLength="5.5" lengthAdjust="spacingAndGlyphs">10</text>
<text x="239.00" y="261.70" font-size="5.5" fill="#0a0a0a" stroke="#0a0a0a" stroke-width="0.42" textLength="2.9" lengthAdjust="spacingAndGlyphs">0</text>
<text x="249.75" y="265.10" font-size="6.9" fill="#0a0a0a" stroke="#0a0a0a" stroke-width="0.5" textLength="5.5" lengthAdjust="spacingAndGlyphs">10</text>
<text x="255.45" y="261.70" font-size="5.5" fill="#0a0a0a" stroke="#0a0a0a" stroke-width="0.42" textLength="2.9" lengthAdjust="spacingAndGlyphs">1</text>
<text x="266.80" y="265.10" font-size="6.9" fill="#0a0a0a" stroke="#0a0a0a" stroke-width="0.5" textLength="5.5" lengthAdjust="spacingAndGlyphs">10</text>
<text x="272.50" y="261.70" font-size="5.5" fill="#0a0a0a" stroke="#0a0a0a" stroke-width="0.42" textLength="2.9" lengthAdjust="spacingAndGlyphs">2</text>
<text x="283.85" y="265.10" font-size="6.9" fill="#0a0a0a" stroke="#0a0a0a" stroke-width="0.5" textLength="5.5" lengthAdjust="spacingAndGlyphs">10</text>
<text x="289.55" y="261.70" font-size="5.5" fill="#0a0a0a" stroke="#0a0a0a" stroke-width="0.42" textLength="2.9" lengthAdjust="spacingAndGlyphs">3</text>
<text x="300.30" y="265.10" font-size="6.9" fill="#0a0a0a" stroke="#0a0a0a" stroke-width="0.5" textLength="5.5" lengthAdjust="spacingAndGlyphs">10</text>
<text x="306.00" y="261.70" font-size="5.5" fill="#0a0a0a" stroke="#0a0a0a" stroke-width="0.42" textLength="2.9" lengthAdjust="spacingAndGlyphs">4</text>
<text x="231.80" y="255.93" font-size="8.0" fill="#0a0a0a" stroke="#0a0a0a" stroke-width="0.4" textLength="3.25" lengthAdjust="spacingAndGlyphs" transform="rotate(-90 231.80 255.93)">0</text>
<text x="231.80" y="246.43" font-size="8.0" fill="#0a0a0a" stroke="#0a0a0a" stroke-width="0.4" textLength="6.50" lengthAdjust="spacingAndGlyphs" transform="rotate(-90 231.80 246.43)">20</text>
<text x="231.80" y="235.31" font-size="8.0" fill="#0a0a0a" stroke="#0a0a0a" stroke-width="0.4" textLength="6.50" lengthAdjust="spacingAndGlyphs" transform="rotate(-90 231.80 235.31)">40</text>
<text x="231.80" y="224.19" font-size="8.0" fill="#0a0a0a" stroke="#0a0a0a" stroke-width="0.4" textLength="6.50" lengthAdjust="spacingAndGlyphs" transform="rotate(-90 231.80 224.19)">60</text>
<text x="231.80" y="213.07" font-size="8.0" fill="#0a0a0a" stroke="#0a0a0a" stroke-width="0.4" textLength="6.50" lengthAdjust="spacingAndGlyphs" transform="rotate(-90 231.80 213.07)">80</text>
<text x="231.80" y="204.57" font-size="8.0" fill="#0a0a0a" stroke="#0a0a0a" stroke-width="0.4" textLength="9.75" lengthAdjust="spacingAndGlyphs" transform="rotate(-90 231.80 204.57)">100</text>
<line x1="235.80" y1="224.10" x2="278.80" y2="224.10" stroke="#111" stroke-width="1.3"/>
<line x1="278.80" y1="218.80" x2="278.80" y2="229.40" stroke="#111" stroke-width="1.4"/>
<text x="241.00" y="214.70" font-size="14.2" text-anchor="start" fill="#111" stroke="#111" stroke-width="0.27" textLength="42.80" lengthAdjust="spacingAndGlyphs" >34.7 %</text>
</g>
<g>
<rect x="342.00" y="198.70" width="69.00" height="55.60" fill="#fff"/>
<path d="M342.00 254.30 L342.00 254.05 L342.50 253.89 L343.00 253.97 L343.50 254.10 L344.00 254.03 L344.50 254.05 L345.00 253.99 L345.50 254.13 L346.00 254.10 L346.50 254.06 L347.00 253.97 L347.50 253.85 L348.00 254.13 L348.50 253.88 L349.00 254.13 L349.50 253.98 L350.00 253.95 L350.50 253.90 L351.00 253.86 L351.50 254.10 L352.00 253.98 L352.50 253.99 L353.00 253.86 L353.50 254.14 L354.00 254.04 L354.50 253.96 L355.00 254.05 L355.50 253.93 L356.00 254.01 L356.50 254.00 L357.00 254.10 L357.50 254.01 L358.00 253.98 L358.50 254.08 L359.00 254.02 L359.50 254.06 L360.00 253.94 L360.50 254.04 L361.00 253.99 L361.50 253.94 L362.00 254.14 L362.50 254.14 L363.00 254.13 L363.50 253.91 L364.00 254.12 L364.50 253.94 L365.00 253.95 L365.50 253.86 L366.00 254.04 L366.50 254.14 L367.00 253.86 L367.50 254.09 L368.00 254.04 L368.50 254.01 L369.00 254.04 L369.50 254.14 L370.00 253.89 L370.50 254.09 L371.00 254.08 L371.50 253.98 L372.00 253.80 L372.50 253.79 L373.00 253.89 L373.50 253.93 L374.00 253.70 L374.50 253.90 L375.00 253.76 L375.50 253.96 L376.00 253.61 L376.50 253.88 L377.00 253.65 L377.50 253.51 L378.00 253.59 L378.50 253.67 L379.00 253.67 L379.50 253.64 L380.00 253.50 L380.50 253.00 L381.00 253.04 L381.50 253.15 L382.00 253.05 L382.50 252.93 L383.00 252.72 L383.50 252.67 L384.00 252.75 L384.50 252.32 L385.00 252.58 L385.50 252.44 L386.00 252.16 L386.50 252.22 L387.00 251.91 L387.50 250.98 L388.00 250.04 L388.50 248.71 L389.00 248.00 L389.50 245.84 L390.00 243.50 L390.50 240.58 L391.00 237.09 L391.50 232.79 L392.00 229.63 L392.50 226.56 L393.00 224.45 L393.50 221.03 L394.00 218.63 L394.50 215.44 L395.00 214.42 L395.50 218.33 L396.00 222.65 L396.50 226.69 L397.00 233.31 L397.50 239.28 L398.00 242.10 L398.50 245.24 L399.00 248.56 L399.50 249.75 L400.00 251.34 L400.50 252.53 L401.00 253.01 L401.50 253.06 L402.00 253.27 L402.50 253.41 L403.00 253.39 L403.50 253.64 L404.00 253.74 L404.50 253.88 L405.00 253.89 L405.50 253.91 L406.00 253.76 L406.50 254.00 L407.00 254.05 L407.50 253.92 L408.00 253.91 L408.50 254.07 L409.00 253.91 L409.50 253.95 L410.00 254.03 L410.50 254.06 L411.00 253.98 L411.00 254.30 Z" fill="#080808" stroke="#080808" stroke-width="0.4" stroke-linejoin="round"/>
<path d="M342.00 254.09 L342.50 254.15 L343.00 253.89 L343.50 253.88 L344.00 253.83 L344.50 253.87 L345.00 253.97 L345.50 254.04 L346.00 253.91 L346.50 254.18 L347.00 254.13 L347.50 254.10 L348.00 254.12 L348.50 254.16 L349.00 254.12 L349.50 253.97 L350.00 253.97 L350.50 253.83 L351.00 254.13 L351.50 254.07 L352.00 254.11 L352.50 254.09 L353.00 253.86 L353.50 254.02 L354.00 253.99 L354.50 253.95 L355.00 254.00 L355.50 253.89 L356.00 253.95 L356.50 254.08 L357.00 253.94 L357.50 254.19 L358.00 253.85 L358.50 254.14 L359.00 253.84 L359.50 254.17 L360.00 254.13 L360.50 254.17 L361.00 254.10 L361.50 254.22 L362.00 254.10 L362.50 254.06 L363.00 254.04 L363.50 254.11 L364.00 253.91 L364.50 254.09 L365.00 253.89 L365.50 254.07 L366.00 254.02 L366.50 253.98 L367.00 253.82 L367.50 254.24 L368.00 253.92 L368.50 254.02 L369.00 253.94 L369.50 254.06 L370.00 253.82 L370.50 254.05 L371.00 253.80 L371.50 253.68 L372.00 253.77 L372.50 253.80 L373.00 253.86 L373.50 253.42 L374.00 253.49 L374.50 253.41 L375.00 253.44 L375.50 253.46 L376.00 253.73 L376.50 252.85 L377.00 252.83 L377.50 253.02 L378.00 252.63 L378.50 252.32 L379.00 252.06 L379.50 251.99 L380.00 252.07 L380.50 251.37 L381.00 250.97 L381.50 250.69 L382.00 249.95 L382.50 249.04 L383.00 247.56 L383.50 245.23 L384.00 243.56 L384.50 239.25 L385.00 236.82 L385.50 235.45 L386.00 233.65 L386.50 231.08 L387.00 229.91 L387.50 228.32 L388.00 226.74 L388.50 224.89 L389.00 226.42 L389.50 224.69 L390.00 227.66 L390.50 228.28 L391.00 230.45 L391.50 231.24 L392.00 233.98 L392.50 235.59 L393.00 238.35 L393.50 240.06 L394.00 242.52 L394.50 243.70 L395.00 244.60 L395.50 246.85 L396.00 247.48 L396.50 248.89 L397.00 250.35 L397.50 251.28 L398.00 251.76 L398.50 252.47 L399.00 252.37 L399.50 253.22 L400.00 252.84 L400.50 253.38 L401.00 253.61 L401.50 253.89 L402.00 253.28 L402.50 253.49 L403.00 253.70 L403.50 253.91 L404.00 253.93 L404.50 253.82 L405.00 253.68 L405.50 253.78 L406.00 253.84 L406.50 254.01 L407.00 253.88 L407.50 254.05 L408.00 254.02 L408.50 253.99 L409.00 253.92 L409.50 253.80 L410.00 253.96 L410.50 254.10 L411.00 254.20" fill="none" stroke="#808080" stroke-width="1.5" stroke-linejoin="round"/>
<path d="M342.00 198.70H411.00V254.30" fill="none" stroke="#2a2a2a" stroke-width="0.95"/>
<line x1="342.00" y1="198.70" x2="342.00" y2="254.30" stroke="#1a1a1a" stroke-width="1.25"/>
<line x1="341.40" y1="254.30" x2="411.50" y2="254.30" stroke="#111" stroke-width="1.4"/>
<path d="M342.00 254.30v3.0 M347.19 254.30v1.7 M350.23 254.30v1.7 M352.39 254.30v1.7 M354.06 254.30v1.7 M355.42 254.30v1.7 M356.58 254.30v1.7 M357.58 254.30v1.7 M358.46 254.30v1.7 M359.25 254.30v3.0 M364.44 254.30v1.7 M367.48 254.30v1.7 M369.64 254.30v1.7 M371.31 254.30v1.7 M372.67 254.30v1.7 M373.83 254.30v1.7 M374.83 254.30v1.7 M375.71 254.30v1.7 M376.50 254.30v3.0 M381.69 254.30v1.7 M384.73 254.30v1.7 M386.89 254.30v1.7 M388.56 254.30v1.7 M389.92 254.30v1.7 M391.08 254.30v1.7 M392.08 254.30v1.7 M392.96 254.30v1.7 M393.75 254.30v3.0 M398.94 254.30v1.7 M401.98 254.30v1.7 M404.14 254.30v1.7 M405.81 254.30v1.7 M407.17 254.30v1.7 M408.33 254.30v1.7 M409.33 254.30v1.7 M410.21 254.30v1.7 M411.00 254.30v3.0" stroke="#111" stroke-width="0.85" fill="none"/>
<path d="M342.00 254.30h-3.0 M342.00 252.08h-1.6 M342.00 249.85h-1.6 M342.00 247.63h-1.6 M342.00 245.40h-1.6 M342.00 243.18h-3.0 M342.00 240.96h-1.6 M342.00 238.73h-1.6 M342.00 236.51h-1.6 M342.00 234.28h-1.6 M342.00 232.06h-3.0 M342.00 229.84h-1.6 M342.00 227.61h-1.6 M342.00 225.39h-1.6 M342.00 223.16h-1.6 M342.00 220.94h-3.0 M342.00 218.72h-1.6 M342.00 216.49h-1.6 M342.00 214.27h-1.6 M342.00 212.04h-1.6 M342.00 209.82h-3.0 M342.00 207.60h-1.6 M342.00 205.37h-1.6 M342.00 203.15h-1.6 M342.00 200.92h-1.6 M342.00 198.70h-3.0" stroke="#111" stroke-width="0.85" fill="none"/>
<text x="339.50" y="265.10" font-size="6.9" fill="#0a0a0a" stroke="#0a0a0a" stroke-width="0.5" textLength="5.5" lengthAdjust="spacingAndGlyphs">10</text>
<text x="345.20" y="261.70" font-size="5.5" fill="#0a0a0a" stroke="#0a0a0a" stroke-width="0.42" textLength="2.9" lengthAdjust="spacingAndGlyphs">0</text>
<text x="355.75" y="265.10" font-size="6.9" fill="#0a0a0a" stroke="#0a0a0a" stroke-width="0.5" textLength="5.5" lengthAdjust="spacingAndGlyphs">10</text>
<text x="361.45" y="261.70" font-size="5.5" fill="#0a0a0a" stroke="#0a0a0a" stroke-width="0.42" textLength="2.9" lengthAdjust="spacingAndGlyphs">1</text>
<text x="372.60" y="265.10" font-size="6.9" fill="#0a0a0a" stroke="#0a0a0a" stroke-width="0.5" textLength="5.5" lengthAdjust="spacingAndGlyphs">10</text>
<text x="378.30" y="261.70" font-size="5.5" fill="#0a0a0a" stroke="#0a0a0a" stroke-width="0.42" textLength="2.9" lengthAdjust="spacingAndGlyphs">2</text>
<text x="389.45" y="265.10" font-size="6.9" fill="#0a0a0a" stroke="#0a0a0a" stroke-width="0.5" textLength="5.5" lengthAdjust="spacingAndGlyphs">10</text>
<text x="395.15" y="261.70" font-size="5.5" fill="#0a0a0a" stroke="#0a0a0a" stroke-width="0.42" textLength="2.9" lengthAdjust="spacingAndGlyphs">3</text>
<text x="405.70" y="265.10" font-size="6.9" fill="#0a0a0a" stroke="#0a0a0a" stroke-width="0.5" textLength="5.5" lengthAdjust="spacingAndGlyphs">10</text>
<text x="411.40" y="261.70" font-size="5.5" fill="#0a0a0a" stroke="#0a0a0a" stroke-width="0.42" textLength="2.9" lengthAdjust="spacingAndGlyphs">4</text>
<text x="338.00" y="255.93" font-size="8.0" fill="#0a0a0a" stroke="#0a0a0a" stroke-width="0.4" textLength="3.25" lengthAdjust="spacingAndGlyphs" transform="rotate(-90 338.00 255.93)">0</text>
<text x="338.00" y="246.43" font-size="8.0" fill="#0a0a0a" stroke="#0a0a0a" stroke-width="0.4" textLength="6.50" lengthAdjust="spacingAndGlyphs" transform="rotate(-90 338.00 246.43)">20</text>
<text x="338.00" y="235.31" font-size="8.0" fill="#0a0a0a" stroke="#0a0a0a" stroke-width="0.4" textLength="6.50" lengthAdjust="spacingAndGlyphs" transform="rotate(-90 338.00 235.31)">40</text>
<text x="338.00" y="224.19" font-size="8.0" fill="#0a0a0a" stroke="#0a0a0a" stroke-width="0.4" textLength="6.50" lengthAdjust="spacingAndGlyphs" transform="rotate(-90 338.00 224.19)">60</text>
<text x="338.00" y="213.07" font-size="8.0" fill="#0a0a0a" stroke="#0a0a0a" stroke-width="0.4" textLength="6.50" lengthAdjust="spacingAndGlyphs" transform="rotate(-90 338.00 213.07)">80</text>
<text x="338.00" y="204.57" font-size="8.0" fill="#0a0a0a" stroke="#0a0a0a" stroke-width="0.4" textLength="9.75" lengthAdjust="spacingAndGlyphs" transform="rotate(-90 338.00 204.57)">100</text>
<line x1="342.00" y1="223.90" x2="384.60" y2="223.90" stroke="#111" stroke-width="1.3"/>
<line x1="384.60" y1="218.60" x2="384.60" y2="229.20" stroke="#111" stroke-width="1.4"/>
<text x="347.30" y="214.70" font-size="14.2" text-anchor="start" fill="#111" stroke="#111" stroke-width="0.27" textLength="43.10" lengthAdjust="spacingAndGlyphs" >47.3 %</text>
</g>
<text x="438.10" y="213.10" font-size="17.5" text-anchor="start" fill="#000" stroke="#000" stroke-width="0.18" font-weight="bold" transform="rotate(-90 438.10 213.10)" textLength="52.00" lengthAdjust="spacingAndGlyphs" >counts</text>
<path d="M434.2 252.3 V290.4 H423.9" fill="none" stroke="#000" stroke-width="2.3" stroke-linejoin="miter"/>
<path d="M434.2 235.2 L425.0 253.3 L443.4 253.3 Z" fill="#000"/>
<path d="M406.7 290.4 L424.9 281.45 L424.9 299.34999999999997 Z" fill="#000"/>
<text x="321" y="297" font-size="16.1" font-weight="bold" stroke="#000" stroke-width="0.2" textLength="66.8" lengthAdjust="spacingAndGlyphs">DiOC<tspan font-size="11.6" dy="3.4">6</tspan><tspan dy="-3.4">(3)</tspan></text>
<text x="75.20" y="342.00" font-size="23.5" text-anchor="start" fill="#000" stroke="#000" stroke-width="0.24" font-weight="bold" textLength="17.20" lengthAdjust="spacingAndGlyphs" >B</text>
<text x="200.80" y="359.60" font-size="20.5" text-anchor="start" fill="#111" stroke="#111" stroke-width="0.39" textLength="115.50" lengthAdjust="spacingAndGlyphs" >T3C1 (3 µM)</text>
<line x1="122" y1="374.2" x2="403" y2="374.2" stroke="#0a0a0a" stroke-width="2"/>
<text x="158.50" y="405.00" font-size="18.2" text-anchor="middle" fill="#111" stroke="#111" stroke-width="0.35" >24h</text>
<text x="268.20" y="405.00" font-size="18.2" text-anchor="middle" fill="#111" stroke="#111" stroke-width="0.35" >48h</text>
<text x="371.50" y="405.00" font-size="18.2" text-anchor="middle" fill="#111" stroke="#111" stroke-width="0.35" >72h</text>
<text x="89.50" y="487.50" font-size="16" text-anchor="start" fill="#0a0a0a" stroke="#0a0a0a" stroke-width="0.42" transform="rotate(-90 89.50 487.50)" textLength="69.60" lengthAdjust="spacingAndGlyphs" >untreated</text>
<text x="89.40" y="601.40" font-size="16" text-anchor="start" fill="#0a0a0a" stroke="#0a0a0a" stroke-width="0.42" transform="rotate(-90 89.40 601.40)" textLength="98.00" lengthAdjust="spacingAndGlyphs" >ATRA-treated</text>
<text x="108.20" y="579.30" font-size="16" text-anchor="start" fill="#0a0a0a" stroke="#0a0a0a" stroke-width="0.42" transform="rotate(-90 108.20 579.30)" textLength="49.60" lengthAdjust="spacingAndGlyphs" >(1 µM)</text>
<g>
<rect x="130.80" y="424.10" width="69.30" height="57.00" fill="#fff"/>
<path d="M130.80 481.10 L130.80 480.86 L131.30 478.04 L131.80 478.73 L132.30 478.87 L132.80 479.17 L133.30 478.95 L133.80 477.72 L134.30 476.81 L134.80 475.96 L135.30 475.10 L135.80 471.62 L136.30 468.25 L136.80 463.66 L137.30 458.80 L137.80 456.14 L138.30 452.22 L138.80 448.00 L139.30 445.08 L139.80 443.05 L140.30 440.18 L140.80 439.56 L141.30 439.59 L141.80 441.16 L142.30 442.63 L142.80 446.12 L143.30 448.42 L143.80 453.11 L144.30 459.18 L144.80 464.40 L145.30 466.76 L145.80 470.50 L146.30 473.47 L146.80 474.57 L147.30 475.54 L147.80 476.43 L148.30 477.15 L148.80 477.61 L149.30 478.31 L149.80 478.40 L150.30 478.40 L150.80 479.16 L151.30 479.07 L151.80 479.56 L152.30 479.88 L152.80 480.04 L153.30 479.82 L153.80 479.86 L154.30 479.84 L154.80 479.83 L155.30 480.37 L155.80 480.20 L156.30 480.03 L156.80 480.29 L157.30 480.29 L157.80 480.54 L158.30 480.73 L158.80 480.59 L159.30 480.75 L159.80 480.68 L160.30 480.54 L160.80 480.69 L161.30 480.63 L161.80 480.65 L162.30 480.55 L162.80 480.55 L163.30 480.47 L163.80 480.76 L164.30 480.68 L164.80 480.73 L165.30 480.56 L165.80 480.78 L166.30 480.51 L166.80 480.53 L167.30 480.65 L167.80 480.77 L168.30 480.53 L168.80 480.60 L169.30 480.57 L169.80 480.57 L170.30 480.73 L170.80 480.52 L171.30 480.77 L171.80 480.74 L172.30 480.67 L172.80 480.76 L173.30 480.75 L173.80 480.74 L174.30 480.55 L174.80 480.63 L175.30 480.61 L175.80 480.70 L176.30 480.55 L176.80 480.69 L177.30 480.82 L177.80 480.76 L178.30 480.71 L178.80 480.81 L179.30 480.64 L179.80 480.86 L180.30 480.59 L180.80 480.82 L181.30 480.69 L181.80 480.57 L182.30 480.69 L182.80 480.68 L183.30 480.64 L183.80 480.72 L184.30 480.79 L184.80 480.78 L185.30 480.65 L185.80 480.73 L186.30 480.87 L186.80 480.74 L187.30 480.80 L187.80 480.81 L188.30 480.82 L188.80 480.85 L189.30 480.80 L189.80 480.88 L190.30 480.79 L190.80 480.89 L191.30 480.60 L191.80 480.71 L192.30 480.66 L192.80 480.64 L193.30 480.91 L193.80 480.75 L194.30 480.92 L194.80 480.68 L195.30 480.82 L195.80 480.70 L196.30 480.72 L196.80 480.89 L197.30 480.85 L197.80 480.83 L198.30 480.76 L198.80 480.77 L199.30 480.83 L199.80 480.71 L200.10 481.10 Z" fill="#b8b8b8" stroke="#b8b8b8" stroke-width="0.4" stroke-linejoin="round"/>
<path d="M130.80 480.63 L131.30 472.67 L131.80 473.51 L132.30 475.25 L132.80 476.88 L133.30 477.72 L133.80 478.87 L134.30 479.35 L134.80 478.15 L135.30 477.57 L135.80 476.39 L136.30 475.52 L136.80 473.39 L137.30 469.07 L137.80 465.33 L138.30 462.13 L138.80 457.14 L139.30 450.77 L139.80 449.71 L140.30 444.51 L140.80 443.93 L141.30 443.45 L141.80 440.65 L142.30 441.00 L142.80 440.21 L143.30 443.30 L143.80 446.82 L144.30 450.77 L144.80 455.60 L145.30 462.32 L145.80 465.71 L146.30 469.04 L146.80 471.19 L147.30 473.77 L147.80 474.47 L148.30 475.68 L148.80 476.65 L149.30 477.27 L149.80 478.17 L150.30 477.92 L150.80 478.09 L151.30 479.16 L151.80 479.06 L152.30 479.43 L152.80 479.71 L153.30 479.87 L153.80 479.97 L154.30 479.68 L154.80 480.15 L155.30 480.34 L155.80 480.06 L156.30 479.93 L156.80 480.34 L157.30 480.01 L157.80 480.72 L158.30 480.00 L158.80 480.20 L159.30 480.10 L159.80 480.07 L160.30 480.18 L160.80 480.67 L161.30 480.74 L161.80 480.39 L162.30 480.05 L162.80 480.50 L163.30 480.63 L163.80 480.50 L164.30 480.43 L164.80 480.36 L165.30 480.40 L165.80 480.62 L166.30 480.60 L166.80 480.39 L167.30 480.40 L167.80 480.39 L168.30 480.85 L168.80 480.51 L169.30 480.50 L169.80 480.84 L170.30 480.45 L170.80 480.76 L171.30 480.85 L171.80 480.73 L172.30 480.89 L172.80 480.61 L173.30 480.61 L173.80 480.77 L174.30 480.92 L174.80 480.64 L175.30 480.97 L175.80 480.74 L176.30 480.66 L176.80 480.61 L177.30 480.68 L177.80 481.01 L178.30 480.83 L178.80 480.84 L179.30 480.92 L179.80 481.01 L180.30 480.93 L180.80 480.61 L181.30 480.67 L181.80 481.00 L182.30 480.75 L182.80 480.90 L183.30 481.02 L183.80 480.89 L184.30 480.93 L184.80 480.72 L185.30 480.69 L185.80 481.00 L186.30 480.59 L186.80 480.63 L187.30 480.73 L187.80 480.80 L188.30 480.74 L188.80 480.71 L189.30 480.97 L189.80 480.73 L190.30 481.01 L190.80 480.67 L191.30 480.69 L191.80 480.64 L192.30 481.03 L192.80 480.62 L193.30 480.94 L193.80 480.61 L194.30 480.75 L194.80 480.83 L195.30 480.86 L195.80 480.89 L196.30 480.87 L196.80 480.71 L197.30 480.62 L197.80 480.79 L198.30 480.67 L198.80 480.86 L199.30 480.58 L199.80 480.83" fill="none" stroke="#4f4f4f" stroke-width="1.35" stroke-linejoin="round"/>
<path d="M130.80 424.10H200.10V481.10" fill="none" stroke="#2a2a2a" stroke-width="0.95"/>
<line x1="130.80" y1="424.10" x2="130.80" y2="481.10" stroke="#1a1a1a" stroke-width="1.25"/>
<line x1="130.20" y1="481.10" x2="200.60" y2="481.10" stroke="#111" stroke-width="1.4"/>
<path d="M130.80 481.10v3.0 M136.02 481.10v1.7 M139.07 481.10v1.7 M141.23 481.10v1.7 M142.91 481.10v1.7 M144.28 481.10v1.7 M145.44 481.10v1.7 M146.45 481.10v1.7 M147.33 481.10v1.7 M148.12 481.10v3.0 M153.34 481.10v1.7 M156.39 481.10v1.7 M158.56 481.10v1.7 M160.23 481.10v1.7 M161.61 481.10v1.7 M162.77 481.10v1.7 M163.77 481.10v1.7 M164.66 481.10v1.7 M165.45 481.10v3.0 M170.67 481.10v1.7 M173.72 481.10v1.7 M175.88 481.10v1.7 M177.56 481.10v1.7 M178.93 481.10v1.7 M180.09 481.10v1.7 M181.10 481.10v1.7 M181.98 481.10v1.7 M182.78 481.10v3.0 M187.99 481.10v1.7 M191.04 481.10v1.7 M193.21 481.10v1.7 M194.88 481.10v1.7 M196.26 481.10v1.7 M197.42 481.10v1.7 M198.42 481.10v1.7 M199.31 481.10v1.7 M200.10 481.10v3.0" stroke="#111" stroke-width="0.85" fill="none"/>
<path d="M130.80 481.10h-3.0 M130.80 478.82h-1.6 M130.80 476.54h-1.6 M130.80 474.26h-1.6 M130.80 471.98h-1.6 M130.80 469.70h-3.0 M130.80 467.42h-1.6 M130.80 465.14h-1.6 M130.80 462.86h-1.6 M130.80 460.58h-1.6 M130.80 458.30h-3.0 M130.80 456.02h-1.6 M130.80 453.74h-1.6 M130.80 451.46h-1.6 M130.80 449.18h-1.6 M130.80 446.90h-3.0 M130.80 444.62h-1.6 M130.80 442.34h-1.6 M130.80 440.06h-1.6 M130.80 437.78h-1.6 M130.80 435.50h-3.0 M130.80 433.22h-1.6 M130.80 430.94h-1.6 M130.80 428.66h-1.6 M130.80 426.38h-1.6 M130.80 424.10h-3.0" stroke="#111" stroke-width="0.85" fill="none"/>
<text x="128.30" y="491.90" font-size="6.9" fill="#0a0a0a" stroke="#0a0a0a" stroke-width="0.5" textLength="5.5" lengthAdjust="spacingAndGlyphs">10</text>
<text x="134.00" y="488.50" font-size="5.5" fill="#0a0a0a" stroke="#0a0a0a" stroke-width="0.42" textLength="2.9" lengthAdjust="spacingAndGlyphs">0</text>
<text x="144.62" y="491.90" font-size="6.9" fill="#0a0a0a" stroke="#0a0a0a" stroke-width="0.5" textLength="5.5" lengthAdjust="spacingAndGlyphs">10</text>
<text x="150.33" y="488.50" font-size="5.5" fill="#0a0a0a" stroke="#0a0a0a" stroke-width="0.42" textLength="2.9" lengthAdjust="spacingAndGlyphs">1</text>
<text x="161.55" y="491.90" font-size="6.9" fill="#0a0a0a" stroke="#0a0a0a" stroke-width="0.5" textLength="5.5" lengthAdjust="spacingAndGlyphs">10</text>
<text x="167.25" y="488.50" font-size="5.5" fill="#0a0a0a" stroke="#0a0a0a" stroke-width="0.42" textLength="2.9" lengthAdjust="spacingAndGlyphs">2</text>
<text x="178.47" y="491.90" font-size="6.9" fill="#0a0a0a" stroke="#0a0a0a" stroke-width="0.5" textLength="5.5" lengthAdjust="spacingAndGlyphs">10</text>
<text x="184.18" y="488.50" font-size="5.5" fill="#0a0a0a" stroke="#0a0a0a" stroke-width="0.42" textLength="2.9" lengthAdjust="spacingAndGlyphs">3</text>
<text x="194.80" y="491.90" font-size="6.9" fill="#0a0a0a" stroke="#0a0a0a" stroke-width="0.5" textLength="5.5" lengthAdjust="spacingAndGlyphs">10</text>
<text x="200.50" y="488.50" font-size="5.5" fill="#0a0a0a" stroke="#0a0a0a" stroke-width="0.42" textLength="2.9" lengthAdjust="spacingAndGlyphs">4</text>
<text x="126.80" y="482.73" font-size="8.0" fill="#0a0a0a" stroke="#0a0a0a" stroke-width="0.4" textLength="3.25" lengthAdjust="spacingAndGlyphs" transform="rotate(-90 126.80 482.73)">0</text>
<text x="126.80" y="472.95" font-size="8.0" fill="#0a0a0a" stroke="#0a0a0a" stroke-width="0.4" textLength="6.50" lengthAdjust="spacingAndGlyphs" transform="rotate(-90 126.80 472.95)">20</text>
<text x="126.80" y="461.55" font-size="8.0" fill="#0a0a0a" stroke="#0a0a0a" stroke-width="0.4" textLength="6.50" lengthAdjust="spacingAndGlyphs" transform="rotate(-90 126.80 461.55)">40</text>
<text x="126.80" y="450.15" font-size="8.0" fill="#0a0a0a" stroke="#0a0a0a" stroke-width="0.4" textLength="6.50" lengthAdjust="spacingAndGlyphs" transform="rotate(-90 126.80 450.15)">60</text>
<text x="126.80" y="438.75" font-size="8.0" fill="#0a0a0a" stroke="#0a0a0a" stroke-width="0.4" textLength="6.50" lengthAdjust="spacingAndGlyphs" transform="rotate(-90 126.80 438.75)">80</text>
<text x="126.80" y="429.98" font-size="8.0" fill="#0a0a0a" stroke="#0a0a0a" stroke-width="0.4" textLength="9.75" lengthAdjust="spacingAndGlyphs" transform="rotate(-90 126.80 429.98)">100</text>
<line x1="148.80" y1="451.20" x2="199.40" y2="451.20" stroke="#111" stroke-width="1.3"/>
<line x1="148.80" y1="445.20" x2="148.80" y2="457.20" stroke="#111" stroke-width="1.4"/>
<line x1="199.30" y1="445.20" x2="199.30" y2="457.20" stroke="#111" stroke-width="1.4"/>
<text x="155.00" y="440.30" font-size="14.2" text-anchor="start" fill="#111" stroke="#111" stroke-width="0.27" textLength="42.60" lengthAdjust="spacingAndGlyphs" >1.66 %</text>
</g>
<g>
<rect x="237.80" y="424.20" width="67.80" height="56.90" fill="#fff"/>
<path d="M237.80 481.10 L237.80 480.93 L238.30 480.59 L238.80 480.61 L239.30 480.17 L239.80 480.02 L240.30 479.68 L240.80 479.12 L241.30 477.00 L241.80 473.70 L242.30 469.84 L242.80 466.40 L243.30 462.51 L243.80 457.41 L244.30 452.93 L244.80 449.10 L245.30 446.61 L245.80 444.27 L246.30 441.43 L246.80 440.82 L247.30 444.45 L247.80 446.32 L248.30 452.78 L248.80 459.20 L249.30 462.36 L249.80 464.78 L250.30 467.27 L250.80 469.69 L251.30 471.36 L251.80 472.70 L252.30 473.58 L252.80 475.24 L253.30 476.42 L253.80 477.56 L254.30 477.85 L254.80 478.69 L255.30 479.34 L255.80 479.94 L256.30 480.59 L256.80 480.28 L257.30 480.38 L257.80 480.42 L258.30 480.53 L258.80 480.83 L259.30 480.67 L259.80 480.77 L260.30 480.99 L260.80 480.88 L261.30 480.88 L261.80 481.02 L262.30 481.01 L262.80 480.87 L263.30 480.99 L263.80 480.81 L264.30 480.87 L264.80 480.90 L265.30 480.99 L265.80 480.93 L266.30 480.91 L266.80 480.81 L267.30 480.75 L267.80 480.89 L268.30 480.90 L268.80 480.87 L269.30 480.73 L269.80 480.97 L270.30 480.99 L270.80 480.93 L271.30 480.86 L271.80 480.75 L272.30 480.87 L272.80 480.88 L273.30 480.88 L273.80 480.99 L274.30 480.99 L274.80 480.86 L275.30 480.92 L275.80 480.80 L276.30 480.82 L276.80 481.00 L277.30 480.83 L277.80 480.96 L278.30 480.88 L278.80 480.79 L279.30 480.78 L279.80 480.96 L280.30 480.74 L280.80 480.74 L281.30 480.84 L281.80 480.78 L282.30 480.77 L282.80 480.89 L283.30 480.95 L283.80 480.81 L284.30 480.95 L284.80 480.92 L285.30 480.90 L285.80 480.72 L286.30 480.88 L286.80 480.99 L287.30 480.74 L287.80 480.88 L288.30 480.91 L288.80 480.90 L289.30 480.92 L289.80 480.86 L290.30 480.78 L290.80 480.71 L291.30 480.74 L291.80 480.78 L292.30 480.84 L292.80 480.80 L293.30 480.87 L293.80 480.95 L294.30 480.94 L294.80 480.96 L295.30 480.79 L295.80 480.92 L296.30 480.79 L296.80 480.89 L297.30 480.73 L297.80 480.69 L298.30 480.80 L298.80 480.84 L299.30 480.74 L299.80 480.87 L300.30 480.71 L300.80 480.83 L301.30 480.81 L301.80 480.79 L302.30 480.93 L302.80 480.85 L303.30 480.67 L303.80 480.77 L304.30 480.67 L304.80 480.77 L305.30 480.87 L305.60 481.10 Z" fill="#cbcbcb" stroke="#cbcbcb" stroke-width="0.4" stroke-linejoin="round"/>
<path d="M237.80 481.05 L238.30 477.34 L238.80 477.45 L239.30 478.21 L239.80 478.72 L240.30 479.31 L240.80 479.46 L241.30 477.72 L241.80 478.58 L242.30 477.25 L242.80 477.52 L243.30 476.50 L243.80 474.43 L244.30 474.09 L244.80 473.23 L245.30 473.00 L245.80 472.53 L246.30 470.78 L246.80 470.59 L247.30 469.97 L247.80 468.06 L248.30 468.39 L248.80 467.69 L249.30 466.26 L249.80 465.78 L250.30 463.43 L250.80 464.46 L251.30 462.49 L251.80 462.49 L252.30 461.50 L252.80 459.48 L253.30 458.23 L253.80 458.46 L254.30 456.95 L254.80 455.73 L255.30 455.08 L255.80 457.77 L256.30 460.00 L256.80 463.33 L257.30 466.82 L257.80 468.42 L258.30 470.11 L258.80 471.59 L259.30 473.22 L259.80 474.22 L260.30 475.20 L260.80 474.76 L261.30 476.31 L261.80 476.55 L262.30 477.75 L262.80 477.29 L263.30 477.27 L263.80 477.62 L264.30 478.11 L264.80 478.79 L265.30 478.46 L265.80 478.19 L266.30 478.33 L266.80 479.48 L267.30 479.74 L267.80 479.41 L268.30 479.90 L268.80 478.69 L269.30 478.94 L269.80 478.90 L270.30 479.57 L270.80 479.24 L271.30 479.57 L271.80 479.53 L272.30 480.17 L272.80 479.45 L273.30 479.27 L273.80 480.52 L274.30 480.38 L274.80 480.03 L275.30 479.58 L275.80 480.01 L276.30 479.46 L276.80 479.27 L277.30 480.65 L277.80 479.87 L278.30 480.32 L278.80 479.38 L279.30 479.47 L279.80 480.24 L280.30 479.56 L280.80 480.22 L281.30 479.52 L281.80 479.56 L282.30 479.98 L282.80 479.52 L283.30 480.04 L283.80 479.71 L284.30 480.46 L284.80 479.93 L285.30 479.36 L285.80 480.61 L286.30 479.91 L286.80 479.58 L287.30 480.04 L287.80 480.50 L288.30 480.43 L288.80 480.09 L289.30 479.55 L289.80 480.26 L290.30 479.49 L290.80 480.54 L291.30 480.01 L291.80 480.33 L292.30 480.09 L292.80 480.60 L293.30 480.60 L293.80 480.25 L294.30 479.39 L294.80 479.33 L295.30 480.05 L295.80 480.02 L296.30 480.40 L296.80 479.85 L297.30 480.34 L297.80 480.33 L298.30 480.30 L298.80 480.80 L299.30 479.67 L299.80 480.86 L300.30 480.13 L300.80 479.51 L301.30 479.87 L301.80 480.53 L302.30 479.78 L302.80 480.23 L303.30 479.43 L303.80 480.47 L304.30 480.32 L304.80 480.67 L305.30 480.93" fill="none" stroke="#4f4f4f" stroke-width="1.5" stroke-linejoin="round"/>
<path d="M237.80 424.20H305.60V481.10" fill="none" stroke="#2a2a2a" stroke-width="0.95"/>
<line x1="237.80" y1="424.20" x2="237.80" y2="481.10" stroke="#1a1a1a" stroke-width="1.25"/>
<line x1="237.20" y1="481.10" x2="306.10" y2="481.10" stroke="#111" stroke-width="1.4"/>
<path d="M237.80 481.10v3.0 M242.90 481.10v1.7 M245.89 481.10v1.7 M248.00 481.10v1.7 M249.65 481.10v1.7 M250.99 481.10v1.7 M252.12 481.10v1.7 M253.11 481.10v1.7 M253.97 481.10v1.7 M254.75 481.10v3.0 M259.85 481.10v1.7 M262.84 481.10v1.7 M264.95 481.10v1.7 M266.60 481.10v1.7 M267.94 481.10v1.7 M269.07 481.10v1.7 M270.06 481.10v1.7 M270.92 481.10v1.7 M271.70 481.10v3.0 M276.80 481.10v1.7 M279.79 481.10v1.7 M281.90 481.10v1.7 M283.55 481.10v1.7 M284.89 481.10v1.7 M286.02 481.10v1.7 M287.01 481.10v1.7 M287.87 481.10v1.7 M288.65 481.10v3.0 M293.75 481.10v1.7 M296.74 481.10v1.7 M298.85 481.10v1.7 M300.50 481.10v1.7 M301.84 481.10v1.7 M302.97 481.10v1.7 M303.96 481.10v1.7 M304.82 481.10v1.7 M305.60 481.10v3.0" stroke="#111" stroke-width="0.85" fill="none"/>
<path d="M237.80 481.10h-3.0 M237.80 478.82h-1.6 M237.80 476.55h-1.6 M237.80 474.27h-1.6 M237.80 472.00h-1.6 M237.80 469.72h-3.0 M237.80 467.44h-1.6 M237.80 465.17h-1.6 M237.80 462.89h-1.6 M237.80 460.62h-1.6 M237.80 458.34h-3.0 M237.80 456.06h-1.6 M237.80 453.79h-1.6 M237.80 451.51h-1.6 M237.80 449.24h-1.6 M237.80 446.96h-3.0 M237.80 444.68h-1.6 M237.80 442.41h-1.6 M237.80 440.13h-1.6 M237.80 437.86h-1.6 M237.80 435.58h-3.0 M237.80 433.30h-1.6 M237.80 431.03h-1.6 M237.80 428.75h-1.6 M237.80 426.48h-1.6 M237.80 424.20h-3.0" stroke="#111" stroke-width="0.85" fill="none"/>
<text x="235.30" y="491.90" font-size="6.9" fill="#0a0a0a" stroke="#0a0a0a" stroke-width="0.5" textLength="5.5" lengthAdjust="spacingAndGlyphs">10</text>
<text x="241.00" y="488.50" font-size="5.5" fill="#0a0a0a" stroke="#0a0a0a" stroke-width="0.42" textLength="2.9" lengthAdjust="spacingAndGlyphs">0</text>
<text x="251.25" y="491.90" font-size="6.9" fill="#0a0a0a" stroke="#0a0a0a" stroke-width="0.5" textLength="5.5" lengthAdjust="spacingAndGlyphs">10</text>
<text x="256.95" y="488.50" font-size="5.5" fill="#0a0a0a" stroke="#0a0a0a" stroke-width="0.42" textLength="2.9" lengthAdjust="spacingAndGlyphs">1</text>
<text x="267.80" y="491.90" font-size="6.9" fill="#0a0a0a" stroke="#0a0a0a" stroke-width="0.5" textLength="5.5" lengthAdjust="spacingAndGlyphs">10</text>
<text x="273.50" y="488.50" font-size="5.5" fill="#0a0a0a" stroke="#0a0a0a" stroke-width="0.42" textLength="2.9" lengthAdjust="spacingAndGlyphs">2</text>
<text x="284.35" y="491.90" font-size="6.9" fill="#0a0a0a" stroke="#0a0a0a" stroke-width="0.5" textLength="5.5" lengthAdjust="spacingAndGlyphs">10</text>
<text x="290.05" y="488.50" font-size="5.5" fill="#0a0a0a" stroke="#0a0a0a" stroke-width="0.42" textLength="2.9" lengthAdjust="spacingAndGlyphs">3</text>
<text x="300.30" y="491.90" font-size="6.9" fill="#0a0a0a" stroke="#0a0a0a" stroke-width="0.5" textLength="5.5" lengthAdjust="spacingAndGlyphs">10</text>
<text x="306.00" y="488.50" font-size="5.5" fill="#0a0a0a" stroke="#0a0a0a" stroke-width="0.42" textLength="2.9" lengthAdjust="spacingAndGlyphs">4</text>
<text x="233.80" y="482.73" font-size="8.0" fill="#0a0a0a" stroke="#0a0a0a" stroke-width="0.4" textLength="3.25" lengthAdjust="spacingAndGlyphs" transform="rotate(-90 233.80 482.73)">0</text>
<text x="233.80" y="472.97" font-size="8.0" fill="#0a0a0a" stroke="#0a0a0a" stroke-width="0.4" textLength="6.50" lengthAdjust="spacingAndGlyphs" transform="rotate(-90 233.80 472.97)">20</text>
<text x="233.80" y="461.59" font-size="8.0" fill="#0a0a0a" stroke="#0a0a0a" stroke-width="0.4" textLength="6.50" lengthAdjust="spacingAndGlyphs" transform="rotate(-90 233.80 461.59)">40</text>
<text x="233.80" y="450.21" font-size="8.0" fill="#0a0a0a" stroke="#0a0a0a" stroke-width="0.4" textLength="6.50" lengthAdjust="spacingAndGlyphs" transform="rotate(-90 233.80 450.21)">60</text>
<text x="233.80" y="438.83" font-size="8.0" fill="#0a0a0a" stroke="#0a0a0a" stroke-width="0.4" textLength="6.50" lengthAdjust="spacingAndGlyphs" transform="rotate(-90 233.80 438.83)">80</text>
<text x="233.80" y="430.07" font-size="8.0" fill="#0a0a0a" stroke="#0a0a0a" stroke-width="0.4" textLength="9.75" lengthAdjust="spacingAndGlyphs" transform="rotate(-90 233.80 430.07)">100</text>
<line x1="255.10" y1="451.20" x2="305.40" y2="451.20" stroke="#111" stroke-width="1.3"/>
<line x1="255.10" y1="445.20" x2="255.10" y2="457.20" stroke="#111" stroke-width="1.4"/>
<line x1="305.00" y1="445.20" x2="305.00" y2="457.20" stroke="#111" stroke-width="1.4"/>
<text x="259.80" y="440.30" font-size="14.2" text-anchor="start" fill="#111" stroke="#111" stroke-width="0.27" textLength="43.60" lengthAdjust="spacingAndGlyphs" >31.8 %</text>
</g>
<g>
<rect x="337.80" y="424.60" width="68.70" height="56.50" fill="#fff"/>
<path d="M337.80 481.10 L337.80 480.93 L338.30 480.65 L338.80 480.72 L339.30 480.77 L339.80 480.28 L340.30 480.10 L340.80 479.82 L341.30 479.32 L341.80 477.52 L342.30 474.37 L342.80 471.83 L343.30 469.43 L343.80 465.79 L344.30 462.33 L344.80 457.64 L345.30 452.44 L345.80 448.18 L346.30 444.95 L346.80 440.66 L347.30 443.89 L347.80 449.07 L348.30 452.93 L348.80 456.45 L349.30 460.64 L349.80 463.56 L350.30 466.26 L350.80 467.95 L351.30 469.91 L351.80 471.96 L352.30 473.28 L352.80 474.38 L353.30 475.00 L353.80 475.57 L354.30 476.35 L354.80 477.38 L355.30 478.08 L355.80 478.64 L356.30 478.97 L356.80 479.19 L357.30 479.78 L357.80 479.90 L358.30 480.16 L358.80 480.25 L359.30 480.29 L359.80 480.78 L360.30 480.69 L360.80 480.82 L361.30 480.81 L361.80 480.91 L362.30 480.93 L362.80 480.67 L363.30 480.94 L363.80 480.69 L364.30 480.73 L364.80 480.83 L365.30 480.71 L365.80 480.91 L366.30 480.70 L366.80 480.93 L367.30 480.70 L367.80 480.73 L368.30 480.85 L368.80 480.79 L369.30 480.89 L369.80 480.73 L370.30 480.73 L370.80 480.81 L371.30 480.74 L371.80 480.94 L372.30 480.79 L372.80 480.80 L373.30 480.80 L373.80 480.75 L374.30 480.88 L374.80 480.67 L375.30 480.68 L375.80 480.83 L376.30 480.69 L376.80 480.85 L377.30 480.92 L377.80 480.92 L378.30 480.92 L378.80 480.91 L379.30 480.68 L379.80 480.89 L380.30 480.87 L380.80 480.87 L381.30 480.95 L381.80 480.68 L382.30 480.79 L382.80 480.77 L383.30 480.73 L383.80 480.85 L384.30 480.76 L384.80 480.95 L385.30 480.93 L385.80 480.81 L386.30 480.80 L386.80 480.79 L387.30 480.93 L387.80 480.71 L388.30 480.69 L388.80 480.80 L389.30 480.95 L389.80 480.92 L390.30 480.69 L390.80 480.93 L391.30 480.78 L391.80 480.80 L392.30 480.87 L392.80 480.78 L393.30 480.91 L393.80 480.67 L394.30 480.75 L394.80 480.66 L395.30 480.69 L395.80 480.73 L396.30 480.69 L396.80 480.65 L397.30 480.93 L397.80 480.75 L398.30 480.92 L398.80 480.73 L399.30 480.73 L399.80 480.77 L400.30 480.72 L400.80 480.88 L401.30 480.80 L401.80 480.68 L402.30 480.84 L402.80 480.93 L403.30 480.80 L403.80 480.78 L404.30 480.83 L404.80 480.80 L405.30 480.73 L405.80 480.78 L406.30 480.76 L406.50 481.10 Z" fill="#cbcbcb" stroke="#cbcbcb" stroke-width="0.4" stroke-linejoin="round"/>
<path d="M337.80 480.57 L338.30 473.89 L338.80 475.31 L339.30 474.97 L339.80 476.82 L340.30 478.63 L340.80 476.90 L341.30 476.22 L341.80 473.72 L342.30 472.72 L342.80 472.12 L343.30 470.08 L343.80 468.34 L344.30 466.99 L344.80 464.10 L345.30 461.67 L345.80 460.86 L346.30 458.57 L346.80 455.75 L347.30 453.72 L347.80 453.12 L348.30 452.58 L348.80 453.31 L349.30 454.64 L349.80 456.23 L350.30 458.76 L350.80 461.33 L351.30 462.03 L351.80 464.95 L352.30 467.96 L352.80 469.53 L353.30 471.00 L353.80 471.92 L354.30 474.40 L354.80 475.29 L355.30 475.90 L355.80 476.23 L356.30 476.61 L356.80 476.43 L357.30 477.83 L357.80 478.80 L358.30 479.05 L358.80 478.91 L359.30 478.14 L359.80 478.98 L360.30 479.03 L360.80 478.78 L361.30 479.54 L361.80 478.77 L362.30 479.40 L362.80 480.33 L363.30 480.30 L363.80 479.73 L364.30 479.12 L364.80 479.60 L365.30 479.26 L365.80 480.51 L366.30 480.30 L366.80 479.87 L367.30 480.23 L367.80 479.20 L368.30 479.60 L368.80 479.70 L369.30 479.59 L369.80 479.27 L370.30 480.29 L370.80 479.62 L371.30 479.46 L371.80 479.30 L372.30 480.28 L372.80 480.46 L373.30 480.72 L373.80 480.05 L374.30 480.43 L374.80 479.56 L375.30 479.35 L375.80 479.61 L376.30 480.52 L376.80 479.77 L377.30 480.49 L377.80 480.30 L378.30 480.14 L378.80 479.39 L379.30 480.76 L379.80 479.44 L380.30 479.77 L380.80 479.66 L381.30 479.73 L381.80 480.35 L382.30 480.44 L382.80 480.02 L383.30 479.39 L383.80 479.45 L384.30 479.48 L384.80 480.81 L385.30 480.74 L385.80 479.44 L386.30 480.33 L386.80 480.49 L387.30 479.52 L387.80 480.79 L388.30 479.64 L388.80 480.81 L389.30 479.54 L389.80 480.32 L390.30 480.09 L390.80 480.43 L391.30 480.22 L391.80 480.34 L392.30 479.60 L392.80 479.46 L393.30 480.07 L393.80 479.85 L394.30 480.05 L394.80 479.71 L395.30 479.55 L395.80 480.53 L396.30 479.69 L396.80 479.85 L397.30 479.77 L397.80 479.59 L398.30 480.26 L398.80 480.91 L399.30 479.83 L399.80 480.84 L400.30 480.80 L400.80 479.87 L401.30 479.52 L401.80 480.15 L402.30 479.92 L402.80 480.71 L403.30 479.96 L403.80 480.18 L404.30 480.75 L404.80 480.28 L405.30 480.11 L405.80 480.45 L406.30 481.00" fill="none" stroke="#4f4f4f" stroke-width="1.5" stroke-linejoin="round"/>
<path d="M337.80 424.60H406.50V481.10" fill="none" stroke="#2a2a2a" stroke-width="0.95"/>
<line x1="337.80" y1="424.60" x2="337.80" y2="481.10" stroke="#1a1a1a" stroke-width="1.25"/>
<line x1="337.20" y1="481.10" x2="407.00" y2="481.10" stroke="#111" stroke-width="1.4"/>
<path d="M337.80 481.10v3.0 M342.97 481.10v1.7 M345.99 481.10v1.7 M348.14 481.10v1.7 M349.80 481.10v1.7 M351.16 481.10v1.7 M352.31 481.10v1.7 M353.31 481.10v1.7 M354.19 481.10v1.7 M354.98 481.10v3.0 M360.15 481.10v1.7 M363.17 481.10v1.7 M365.32 481.10v1.7 M366.98 481.10v1.7 M368.34 481.10v1.7 M369.49 481.10v1.7 M370.49 481.10v1.7 M371.36 481.10v1.7 M372.15 481.10v3.0 M377.32 481.10v1.7 M380.34 481.10v1.7 M382.49 481.10v1.7 M384.15 481.10v1.7 M385.51 481.10v1.7 M386.66 481.10v1.7 M387.66 481.10v1.7 M388.54 481.10v1.7 M389.32 481.10v3.0 M394.50 481.10v1.7 M397.52 481.10v1.7 M399.67 481.10v1.7 M401.33 481.10v1.7 M402.69 481.10v1.7 M403.84 481.10v1.7 M404.84 481.10v1.7 M405.71 481.10v1.7 M406.50 481.10v3.0" stroke="#111" stroke-width="0.85" fill="none"/>
<path d="M337.80 481.10h-3.0 M337.80 478.84h-1.6 M337.80 476.58h-1.6 M337.80 474.32h-1.6 M337.80 472.06h-1.6 M337.80 469.80h-3.0 M337.80 467.54h-1.6 M337.80 465.28h-1.6 M337.80 463.02h-1.6 M337.80 460.76h-1.6 M337.80 458.50h-3.0 M337.80 456.24h-1.6 M337.80 453.98h-1.6 M337.80 451.72h-1.6 M337.80 449.46h-1.6 M337.80 447.20h-3.0 M337.80 444.94h-1.6 M337.80 442.68h-1.6 M337.80 440.42h-1.6 M337.80 438.16h-1.6 M337.80 435.90h-3.0 M337.80 433.64h-1.6 M337.80 431.38h-1.6 M337.80 429.12h-1.6 M337.80 426.86h-1.6 M337.80 424.60h-3.0" stroke="#111" stroke-width="0.85" fill="none"/>
<text x="335.30" y="491.90" font-size="6.9" fill="#0a0a0a" stroke="#0a0a0a" stroke-width="0.5" textLength="5.5" lengthAdjust="spacingAndGlyphs">10</text>
<text x="341.00" y="488.50" font-size="5.5" fill="#0a0a0a" stroke="#0a0a0a" stroke-width="0.42" textLength="2.9" lengthAdjust="spacingAndGlyphs">0</text>
<text x="351.48" y="491.90" font-size="6.9" fill="#0a0a0a" stroke="#0a0a0a" stroke-width="0.5" textLength="5.5" lengthAdjust="spacingAndGlyphs">10</text>
<text x="357.18" y="488.50" font-size="5.5" fill="#0a0a0a" stroke="#0a0a0a" stroke-width="0.42" textLength="2.9" lengthAdjust="spacingAndGlyphs">1</text>
<text x="368.25" y="491.90" font-size="6.9" fill="#0a0a0a" stroke="#0a0a0a" stroke-width="0.5" textLength="5.5" lengthAdjust="spacingAndGlyphs">10</text>
<text x="373.95" y="488.50" font-size="5.5" fill="#0a0a0a" stroke="#0a0a0a" stroke-width="0.42" textLength="2.9" lengthAdjust="spacingAndGlyphs">2</text>
<text x="385.03" y="491.90" font-size="6.9" fill="#0a0a0a" stroke="#0a0a0a" stroke-width="0.5" textLength="5.5" lengthAdjust="spacingAndGlyphs">10</text>
<text x="390.73" y="488.50" font-size="5.5" fill="#0a0a0a" stroke="#0a0a0a" stroke-width="0.42" textLength="2.9" lengthAdjust="spacingAndGlyphs">3</text>
<text x="401.20" y="491.90" font-size="6.9" fill="#0a0a0a" stroke="#0a0a0a" stroke-width="0.5" textLength="5.5" lengthAdjust="spacingAndGlyphs">10</text>
<text x="406.90" y="488.50" font-size="5.5" fill="#0a0a0a" stroke="#0a0a0a" stroke-width="0.42" textLength="2.9" lengthAdjust="spacingAndGlyphs">4</text>
<text x="333.80" y="482.73" font-size="8.0" fill="#0a0a0a" stroke="#0a0a0a" stroke-width="0.4" textLength="3.25" lengthAdjust="spacingAndGlyphs" transform="rotate(-90 333.80 482.73)">0</text>
<text x="333.80" y="473.05" font-size="8.0" fill="#0a0a0a" stroke="#0a0a0a" stroke-width="0.4" textLength="6.50" lengthAdjust="spacingAndGlyphs" transform="rotate(-90 333.80 473.05)">20</text>
<text x="333.80" y="461.75" font-size="8.0" fill="#0a0a0a" stroke="#0a0a0a" stroke-width="0.4" textLength="6.50" lengthAdjust="spacingAndGlyphs" transform="rotate(-90 333.80 461.75)">40</text>
<text x="333.80" y="450.45" font-size="8.0" fill="#0a0a0a" stroke="#0a0a0a" stroke-width="0.4" textLength="6.50" lengthAdjust="spacingAndGlyphs" transform="rotate(-90 333.80 450.45)">60</text>
<text x="333.80" y="439.15" font-size="8.0" fill="#0a0a0a" stroke="#0a0a0a" stroke-width="0.4" textLength="6.50" lengthAdjust="spacingAndGlyphs" transform="rotate(-90 333.80 439.15)">80</text>
<text x="333.80" y="430.48" font-size="8.0" fill="#0a0a0a" stroke="#0a0a0a" stroke-width="0.4" textLength="9.75" lengthAdjust="spacingAndGlyphs" transform="rotate(-90 333.80 430.48)">100</text>
<line x1="353.90" y1="450.90" x2="405.60" y2="450.90" stroke="#111" stroke-width="1.3"/>
<line x1="353.90" y1="444.80" x2="353.90" y2="457.00" stroke="#111" stroke-width="1.4"/>
<line x1="405.50" y1="444.80" x2="405.50" y2="457.00" stroke="#111" stroke-width="1.4"/>
<text x="360.40" y="440.30" font-size="14.2" text-anchor="start" fill="#111" stroke="#111" stroke-width="0.27" textLength="36.00" lengthAdjust="spacingAndGlyphs" >5.1 %</text>
</g>
<g>
<rect x="130.00" y="525.70" width="72.30" height="58.20" fill="#fff"/>
<path d="M130.00 583.90 L130.00 583.66 L130.50 582.90 L131.00 582.83 L131.50 581.76 L132.00 580.36 L132.50 579.29 L133.00 578.60 L133.50 576.72 L134.00 573.64 L134.50 570.27 L135.00 566.27 L135.50 560.76 L136.00 555.47 L136.50 551.06 L137.00 546.39 L137.50 544.91 L138.00 542.51 L138.50 541.54 L139.00 544.59 L139.50 548.06 L140.00 553.42 L140.50 558.94 L141.00 564.27 L141.50 568.78 L142.00 571.01 L142.50 572.60 L143.00 575.14 L143.50 575.78 L144.00 576.52 L144.50 577.61 L145.00 577.89 L145.50 578.72 L146.00 579.26 L146.50 579.97 L147.00 580.15 L147.50 580.76 L148.00 581.41 L148.50 581.81 L149.00 582.27 L149.50 582.01 L150.00 582.62 L150.50 582.56 L151.00 582.62 L151.50 582.61 L152.00 582.97 L152.50 582.90 L153.00 582.68 L153.50 583.15 L154.00 582.94 L154.50 582.96 L155.00 582.94 L155.50 583.08 L156.00 583.29 L156.50 583.24 L157.00 583.51 L157.50 583.42 L158.00 583.42 L158.50 583.40 L159.00 583.35 L159.50 583.33 L160.00 583.59 L160.50 583.57 L161.00 583.51 L161.50 583.34 L162.00 583.42 L162.50 583.47 L163.00 583.63 L163.50 583.52 L164.00 583.36 L164.50 583.63 L165.00 583.53 L165.50 583.56 L166.00 583.67 L166.50 583.57 L167.00 583.63 L167.50 583.61 L168.00 583.63 L168.50 583.54 L169.00 583.65 L169.50 583.72 L170.00 583.47 L170.50 583.62 L171.00 583.46 L171.50 583.48 L172.00 583.74 L172.50 583.58 L173.00 583.49 L173.50 583.70 L174.00 583.65 L174.50 583.74 L175.00 583.55 L175.50 583.46 L176.00 583.68 L176.50 583.68 L177.00 583.69 L177.50 583.61 L178.00 583.74 L178.50 583.56 L179.00 583.54 L179.50 583.58 L180.00 583.53 L180.50 583.48 L181.00 583.46 L181.50 583.71 L182.00 583.72 L182.50 583.69 L183.00 583.69 L183.50 583.58 L184.00 583.53 L184.50 583.70 L185.00 583.67 L185.50 583.48 L186.00 583.73 L186.50 583.55 L187.00 583.48 L187.50 583.67 L188.00 583.62 L188.50 583.67 L189.00 583.48 L189.50 583.54 L190.00 583.51 L190.50 583.71 L191.00 583.62 L191.50 583.64 L192.00 583.55 L192.50 583.60 L193.00 583.60 L193.50 583.66 L194.00 583.56 L194.50 583.58 L195.00 583.49 L195.50 583.75 L196.00 583.64 L196.50 583.56 L197.00 583.58 L197.50 583.48 L198.00 583.66 L198.50 583.68 L199.00 583.54 L199.50 583.66 L200.00 583.68 L200.50 583.48 L201.00 583.70 L201.50 583.58 L202.00 583.61 L202.30 583.90 Z" fill="#080808" stroke="#080808" stroke-width="0.4" stroke-linejoin="round"/>
<path d="M130.00 525.70H202.30V583.90" fill="none" stroke="#2a2a2a" stroke-width="0.95"/>
<line x1="130.00" y1="549.00" x2="130.00" y2="583.90" stroke="#1a1a1a" stroke-width="1.25"/>
<line x1="129.40" y1="583.90" x2="202.80" y2="583.90" stroke="#111" stroke-width="1.4"/>
<path d="M130.00 583.90v3.0 M135.44 583.90v1.7 M138.62 583.90v1.7 M140.88 583.90v1.7 M142.63 583.90v1.7 M144.07 583.90v1.7 M145.28 583.90v1.7 M146.32 583.90v1.7 M147.25 583.90v1.7 M148.07 583.90v3.0 M153.52 583.90v1.7 M156.70 583.90v1.7 M158.96 583.90v1.7 M160.71 583.90v1.7 M162.14 583.90v1.7 M163.35 583.90v1.7 M164.40 583.90v1.7 M165.32 583.90v1.7 M166.15 583.90v3.0 M171.59 583.90v1.7 M174.77 583.90v1.7 M177.03 583.90v1.7 M178.78 583.90v1.7 M180.22 583.90v1.7 M181.43 583.90v1.7 M182.47 583.90v1.7 M183.40 583.90v1.7 M184.23 583.90v3.0 M189.67 583.90v1.7 M192.85 583.90v1.7 M195.11 583.90v1.7 M196.86 583.90v1.7 M198.29 583.90v1.7 M199.50 583.90v1.7 M200.55 583.90v1.7 M201.47 583.90v1.7 M202.30 583.90v3.0" stroke="#111" stroke-width="0.85" fill="none"/>
<path d="M130.00 583.90h-3.0 M130.00 581.57h-1.6 M130.00 579.24h-1.6 M130.00 576.92h-1.6 M130.00 574.59h-1.6 M130.00 572.26h-3.0 M130.00 569.93h-1.6 M130.00 567.60h-1.6 M130.00 565.28h-1.6 M130.00 562.95h-1.6 M130.00 560.62h-3.0 M130.00 558.29h-1.6 M130.00 555.96h-1.6 M130.00 553.64h-1.6 M130.00 551.31h-1.6 M130.00 548.98h-3.0 M130.00 546.65h-1.6 M130.00 544.32h-1.6 M130.00 542.00h-1.6 M130.00 539.67h-1.6 M130.00 537.34h-3.0 M130.00 535.01h-1.6 M130.00 532.68h-1.6 M130.00 530.36h-1.6 M130.00 528.03h-1.6 M130.00 525.70h-3.0" stroke="#111" stroke-width="0.85" fill="none"/>
<text x="127.50" y="594.70" font-size="6.9" fill="#0a0a0a" stroke="#0a0a0a" stroke-width="0.5" textLength="5.5" lengthAdjust="spacingAndGlyphs">10</text>
<text x="133.20" y="591.30" font-size="5.5" fill="#0a0a0a" stroke="#0a0a0a" stroke-width="0.42" textLength="2.9" lengthAdjust="spacingAndGlyphs">0</text>
<text x="144.57" y="594.70" font-size="6.9" fill="#0a0a0a" stroke="#0a0a0a" stroke-width="0.5" textLength="5.5" lengthAdjust="spacingAndGlyphs">10</text>
<text x="150.28" y="591.30" font-size="5.5" fill="#0a0a0a" stroke="#0a0a0a" stroke-width="0.42" textLength="2.9" lengthAdjust="spacingAndGlyphs">1</text>
<text x="162.25" y="594.70" font-size="6.9" fill="#0a0a0a" stroke="#0a0a0a" stroke-width="0.5" textLength="5.5" lengthAdjust="spacingAndGlyphs">10</text>
<text x="167.95" y="591.30" font-size="5.5" fill="#0a0a0a" stroke="#0a0a0a" stroke-width="0.42" textLength="2.9" lengthAdjust="spacingAndGlyphs">2</text>
<text x="179.93" y="594.70" font-size="6.9" fill="#0a0a0a" stroke="#0a0a0a" stroke-width="0.5" textLength="5.5" lengthAdjust="spacingAndGlyphs">10</text>
<text x="185.63" y="591.30" font-size="5.5" fill="#0a0a0a" stroke="#0a0a0a" stroke-width="0.42" textLength="2.9" lengthAdjust="spacingAndGlyphs">3</text>
<text x="197.00" y="594.70" font-size="6.9" fill="#0a0a0a" stroke="#0a0a0a" stroke-width="0.5" textLength="5.5" lengthAdjust="spacingAndGlyphs">10</text>
<text x="202.70" y="591.30" font-size="5.5" fill="#0a0a0a" stroke="#0a0a0a" stroke-width="0.42" textLength="2.9" lengthAdjust="spacingAndGlyphs">4</text>
<text x="126.00" y="585.52" font-size="8.0" fill="#0a0a0a" stroke="#0a0a0a" stroke-width="0.4" textLength="3.25" lengthAdjust="spacingAndGlyphs" transform="rotate(-90 126.00 585.52)">0</text>
<text x="126.00" y="575.51" font-size="8.0" fill="#0a0a0a" stroke="#0a0a0a" stroke-width="0.4" textLength="6.50" lengthAdjust="spacingAndGlyphs" transform="rotate(-90 126.00 575.51)">20</text>
<text x="126.00" y="563.87" font-size="8.0" fill="#0a0a0a" stroke="#0a0a0a" stroke-width="0.4" textLength="6.50" lengthAdjust="spacingAndGlyphs" transform="rotate(-90 126.00 563.87)">40</text>
<text x="126.00" y="552.23" font-size="8.0" fill="#0a0a0a" stroke="#0a0a0a" stroke-width="0.4" textLength="6.50" lengthAdjust="spacingAndGlyphs" transform="rotate(-90 126.00 552.23)">60</text>
<text x="126.00" y="540.59" font-size="8.0" fill="#0a0a0a" stroke="#0a0a0a" stroke-width="0.4" textLength="6.50" lengthAdjust="spacingAndGlyphs" transform="rotate(-90 126.00 540.59)">80</text>
<text x="126.00" y="531.58" font-size="8.0" fill="#0a0a0a" stroke="#0a0a0a" stroke-width="0.4" textLength="9.75" lengthAdjust="spacingAndGlyphs" transform="rotate(-90 126.00 531.58)">100</text>
<line x1="149.30" y1="552.70" x2="199.60" y2="552.70" stroke="#111" stroke-width="1.3"/>
<line x1="149.30" y1="546.70" x2="149.30" y2="558.70" stroke="#111" stroke-width="1.4"/>
<line x1="199.50" y1="546.70" x2="199.50" y2="558.70" stroke="#111" stroke-width="1.4"/>
<text x="155.20" y="544.80" font-size="14.2" text-anchor="start" fill="#111" stroke="#111" stroke-width="0.27" textLength="35.60" lengthAdjust="spacingAndGlyphs" >0.8 %</text>
</g>
<g>
<rect x="237.80" y="525.70" width="70.50" height="58.20" fill="#fff"/>
<path d="M237.80 583.90 L237.80 583.50 L238.30 583.41 L238.80 583.42 L239.30 583.25 L239.80 583.11 L240.30 582.08 L240.80 581.48 L241.30 580.47 L241.80 578.42 L242.30 576.46 L242.80 574.12 L243.30 570.55 L243.80 566.24 L244.30 561.09 L244.80 555.80 L245.30 552.98 L245.80 547.87 L246.30 546.73 L246.80 544.19 L247.30 542.36 L247.80 544.07 L248.30 548.84 L248.80 553.53 L249.30 559.46 L249.80 564.65 L250.30 567.69 L250.80 570.22 L251.30 572.75 L251.80 573.49 L252.30 574.04 L252.80 575.45 L253.30 576.12 L253.80 577.07 L254.30 577.83 L254.80 578.58 L255.30 578.76 L255.80 579.03 L256.30 580.07 L256.80 580.81 L257.30 581.16 L257.80 581.84 L258.30 581.64 L258.80 581.78 L259.30 581.98 L259.80 582.25 L260.30 582.70 L260.80 583.02 L261.30 583.26 L261.80 583.17 L262.30 583.25 L262.80 583.55 L263.30 583.27 L263.80 583.40 L264.30 583.46 L264.80 583.43 L265.30 583.44 L265.80 583.57 L266.30 583.53 L266.80 583.49 L267.30 583.66 L267.80 583.46 L268.30 583.47 L268.80 583.70 L269.30 583.45 L269.80 583.63 L270.30 583.46 L270.80 583.48 L271.30 583.57 L271.80 583.70 L272.30 583.55 L272.80 583.51 L273.30 583.69 L273.80 583.55 L274.30 583.71 L274.80 583.76 L275.30 583.57 L275.80 583.52 L276.30 583.53 L276.80 583.64 L277.30 583.67 L277.80 583.51 L278.30 583.63 L278.80 583.47 L279.30 583.60 L279.80 583.65 L280.30 583.57 L280.80 583.58 L281.30 583.62 L281.80 583.68 L282.30 583.62 L282.80 583.49 L283.30 583.49 L283.80 583.59 L284.30 583.74 L284.80 583.55 L285.30 583.55 L285.80 583.65 L286.30 583.52 L286.80 583.49 L287.30 583.51 L287.80 583.71 L288.30 583.66 L288.80 583.52 L289.30 583.64 L289.80 583.64 L290.30 583.72 L290.80 583.73 L291.30 583.62 L291.80 583.49 L292.30 583.51 L292.80 583.73 L293.30 583.63 L293.80 583.74 L294.30 583.63 L294.80 583.52 L295.30 583.59 L295.80 583.67 L296.30 583.54 L296.80 583.63 L297.30 583.71 L297.80 583.58 L298.30 583.57 L298.80 583.54 L299.30 583.50 L299.80 583.54 L300.30 583.69 L300.80 583.50 L301.30 583.54 L301.80 583.52 L302.30 583.72 L302.80 583.71 L303.30 583.71 L303.80 583.56 L304.30 583.72 L304.80 583.62 L305.30 583.52 L305.80 583.64 L306.30 583.53 L306.80 583.62 L307.30 583.48 L307.80 583.47 L308.30 583.47 L308.30 583.90 Z" fill="#080808" stroke="#080808" stroke-width="0.4" stroke-linejoin="round"/>
<path d="M237.80 583.49 L238.30 583.19 L238.80 582.88 L239.30 583.52 L239.80 582.56 L240.30 582.17 L240.80 581.79 L241.30 581.72 L241.80 581.48 L242.30 581.32 L242.80 581.53 L243.30 580.41 L243.80 580.20 L244.30 579.70 L244.80 580.10 L245.30 579.58 L245.80 578.82 L246.30 578.17 L246.80 578.28 L247.30 578.33 L247.80 576.65 L248.30 576.44 L248.80 575.92 L249.30 575.38 L249.80 575.06 L250.30 573.37 L250.80 573.02 L251.30 571.81 L251.80 569.56 L252.30 569.94 L252.80 568.78 L253.30 564.88 L253.80 565.02 L254.30 561.48 L254.80 559.67 L255.30 557.68 L255.80 556.44 L256.30 553.37 L256.80 555.09 L257.30 555.27 L257.80 557.27 L258.30 559.09 L258.80 563.19 L259.30 567.45 L259.80 568.39 L260.30 572.47 L260.80 574.85 L261.30 576.13 L261.80 577.46 L262.30 577.92 L262.80 579.40 L263.30 578.88 L263.80 579.46 L264.30 579.05 L264.80 578.46 L265.30 579.80 L265.80 579.68 L266.30 580.41 L266.80 581.38 L267.30 581.06 L267.80 582.03 L268.30 581.29 L268.80 582.43 L269.30 582.19 L269.80 581.57 L270.30 582.45 L270.80 582.45 L271.30 582.30 L271.80 581.89 L272.30 582.21 L272.80 582.78 L273.30 582.76 L273.80 582.17 L274.30 581.76 L274.80 582.97 L275.30 582.16 L275.80 582.17 L276.30 582.42 L276.80 582.81 L277.30 582.92 L277.80 581.94 L278.30 583.31 L278.80 582.96 L279.30 582.14 L279.80 583.22 L280.30 582.45 L280.80 582.99 L281.30 582.16 L281.80 582.97 L282.30 583.03 L282.80 582.97 L283.30 583.33 L283.80 583.07 L284.30 583.37 L284.80 582.31 L285.30 582.47 L285.80 583.14 L286.30 582.39 L286.80 582.77 L287.30 582.98 L287.80 583.35 L288.30 583.15 L288.80 582.57 L289.30 582.41 L289.80 583.37 L290.30 583.13 L290.80 583.05 L291.30 582.59 L291.80 583.09 L292.30 582.73 L292.80 582.58 L293.30 583.14 L293.80 582.73 L294.30 582.28 L294.80 583.35 L295.30 583.10 L295.80 582.46 L296.30 583.42 L296.80 582.44 L297.30 582.38 L297.80 582.22 L298.30 582.45 L298.80 583.67 L299.30 583.21 L299.80 583.32 L300.30 583.17 L300.80 582.41 L301.30 583.27 L301.80 583.15 L302.30 583.20 L302.80 583.52 L303.30 582.68 L303.80 583.49 L304.30 582.46 L304.80 582.56 L305.30 582.81 L305.80 582.57 L306.30 582.78 L306.80 582.82 L307.30 583.12 L307.80 583.21 L308.30 583.74" fill="none" stroke="#808080" stroke-width="1.5" stroke-linejoin="round"/>
<line x1="238.30" y1="549.50" x2="238.30" y2="583.90" stroke="#111" stroke-width="1.7"/>
<path d="M237.80 525.70H308.30V583.90" fill="none" stroke="#2a2a2a" stroke-width="0.95"/>
<line x1="237.80" y1="525.70" x2="237.80" y2="583.90" stroke="#1a1a1a" stroke-width="1.25"/>
<line x1="237.20" y1="583.90" x2="308.80" y2="583.90" stroke="#111" stroke-width="1.4"/>
<path d="M237.80 583.90v3.0 M243.11 583.90v1.7 M246.21 583.90v1.7 M248.41 583.90v1.7 M250.12 583.90v1.7 M251.51 583.90v1.7 M252.69 583.90v1.7 M253.72 583.90v1.7 M254.62 583.90v1.7 M255.43 583.90v3.0 M260.73 583.90v1.7 M263.83 583.90v1.7 M266.04 583.90v1.7 M267.74 583.90v1.7 M269.14 583.90v1.7 M270.32 583.90v1.7 M271.34 583.90v1.7 M272.24 583.90v1.7 M273.05 583.90v3.0 M278.36 583.90v1.7 M281.46 583.90v1.7 M283.66 583.90v1.7 M285.37 583.90v1.7 M286.76 583.90v1.7 M287.94 583.90v1.7 M288.97 583.90v1.7 M289.87 583.90v1.7 M290.68 583.90v3.0 M295.98 583.90v1.7 M299.08 583.90v1.7 M301.29 583.90v1.7 M302.99 583.90v1.7 M304.39 583.90v1.7 M305.57 583.90v1.7 M306.59 583.90v1.7 M307.49 583.90v1.7 M308.30 583.90v3.0" stroke="#111" stroke-width="0.85" fill="none"/>
<path d="M237.80 583.90h-3.0 M237.80 581.57h-1.6 M237.80 579.24h-1.6 M237.80 576.92h-1.6 M237.80 574.59h-1.6 M237.80 572.26h-3.0 M237.80 569.93h-1.6 M237.80 567.60h-1.6 M237.80 565.28h-1.6 M237.80 562.95h-1.6 M237.80 560.62h-3.0 M237.80 558.29h-1.6 M237.80 555.96h-1.6 M237.80 553.64h-1.6 M237.80 551.31h-1.6 M237.80 548.98h-3.0 M237.80 546.65h-1.6 M237.80 544.32h-1.6 M237.80 542.00h-1.6 M237.80 539.67h-1.6 M237.80 537.34h-3.0 M237.80 535.01h-1.6 M237.80 532.68h-1.6 M237.80 530.36h-1.6 M237.80 528.03h-1.6 M237.80 525.70h-3.0" stroke="#111" stroke-width="0.85" fill="none"/>
<text x="235.30" y="594.70" font-size="6.9" fill="#0a0a0a" stroke="#0a0a0a" stroke-width="0.5" textLength="5.5" lengthAdjust="spacingAndGlyphs">10</text>
<text x="241.00" y="591.30" font-size="5.5" fill="#0a0a0a" stroke="#0a0a0a" stroke-width="0.42" textLength="2.9" lengthAdjust="spacingAndGlyphs">0</text>
<text x="251.92" y="594.70" font-size="6.9" fill="#0a0a0a" stroke="#0a0a0a" stroke-width="0.5" textLength="5.5" lengthAdjust="spacingAndGlyphs">10</text>
<text x="257.62" y="591.30" font-size="5.5" fill="#0a0a0a" stroke="#0a0a0a" stroke-width="0.42" textLength="2.9" lengthAdjust="spacingAndGlyphs">1</text>
<text x="269.15" y="594.70" font-size="6.9" fill="#0a0a0a" stroke="#0a0a0a" stroke-width="0.5" textLength="5.5" lengthAdjust="spacingAndGlyphs">10</text>
<text x="274.85" y="591.30" font-size="5.5" fill="#0a0a0a" stroke="#0a0a0a" stroke-width="0.42" textLength="2.9" lengthAdjust="spacingAndGlyphs">2</text>
<text x="286.38" y="594.70" font-size="6.9" fill="#0a0a0a" stroke="#0a0a0a" stroke-width="0.5" textLength="5.5" lengthAdjust="spacingAndGlyphs">10</text>
<text x="292.08" y="591.30" font-size="5.5" fill="#0a0a0a" stroke="#0a0a0a" stroke-width="0.42" textLength="2.9" lengthAdjust="spacingAndGlyphs">3</text>
<text x="303.00" y="594.70" font-size="6.9" fill="#0a0a0a" stroke="#0a0a0a" stroke-width="0.5" textLength="5.5" lengthAdjust="spacingAndGlyphs">10</text>
<text x="308.70" y="591.30" font-size="5.5" fill="#0a0a0a" stroke="#0a0a0a" stroke-width="0.42" textLength="2.9" lengthAdjust="spacingAndGlyphs">4</text>
<text x="233.80" y="585.52" font-size="8.0" fill="#0a0a0a" stroke="#0a0a0a" stroke-width="0.4" textLength="3.25" lengthAdjust="spacingAndGlyphs" transform="rotate(-90 233.80 585.52)">0</text>
<text x="233.80" y="575.51" font-size="8.0" fill="#0a0a0a" stroke="#0a0a0a" stroke-width="0.4" textLength="6.50" lengthAdjust="spacingAndGlyphs" transform="rotate(-90 233.80 575.51)">20</text>
<text x="233.80" y="563.87" font-size="8.0" fill="#0a0a0a" stroke="#0a0a0a" stroke-width="0.4" textLength="6.50" lengthAdjust="spacingAndGlyphs" transform="rotate(-90 233.80 563.87)">40</text>
<text x="233.80" y="552.23" font-size="8.0" fill="#0a0a0a" stroke="#0a0a0a" stroke-width="0.4" textLength="6.50" lengthAdjust="spacingAndGlyphs" transform="rotate(-90 233.80 552.23)">60</text>
<text x="233.80" y="540.59" font-size="8.0" fill="#0a0a0a" stroke="#0a0a0a" stroke-width="0.4" textLength="6.50" lengthAdjust="spacingAndGlyphs" transform="rotate(-90 233.80 540.59)">80</text>
<text x="233.80" y="531.58" font-size="8.0" fill="#0a0a0a" stroke="#0a0a0a" stroke-width="0.4" textLength="9.75" lengthAdjust="spacingAndGlyphs" transform="rotate(-90 233.80 531.58)">100</text>
<line x1="256.50" y1="552.70" x2="307.40" y2="552.70" stroke="#111" stroke-width="1.3"/>
<line x1="256.50" y1="546.80" x2="256.50" y2="558.60" stroke="#111" stroke-width="1.4"/>
<line x1="307.20" y1="546.80" x2="307.20" y2="558.60" stroke="#111" stroke-width="1.4"/>
<text x="261.90" y="544.80" font-size="14.2" text-anchor="start" fill="#111" stroke="#111" stroke-width="0.27" textLength="43.60" lengthAdjust="spacingAndGlyphs" >48.9 %</text>
</g>
<g>
<rect x="336.30" y="525.70" width="69.30" height="58.20" fill="#fff"/>
<path d="M336.30 583.90 L336.30 583.54 L336.80 583.54 L337.30 583.31 L337.80 583.25 L338.30 582.74 L338.80 582.70 L339.30 580.58 L339.80 578.58 L340.30 575.94 L340.80 573.00 L341.30 569.45 L341.80 565.58 L342.30 559.87 L342.80 555.87 L343.30 552.32 L343.80 549.63 L344.30 546.56 L344.80 542.40 L345.30 541.93 L345.80 544.97 L346.30 548.07 L346.80 553.80 L347.30 560.23 L347.80 564.30 L348.30 566.83 L348.80 571.04 L349.30 572.25 L349.80 574.30 L350.30 575.46 L350.80 576.96 L351.30 578.33 L351.80 578.65 L352.30 579.11 L352.80 579.69 L353.30 580.22 L353.80 580.63 L354.30 581.11 L354.80 581.75 L355.30 582.10 L355.80 582.50 L356.30 582.44 L356.80 582.68 L357.30 582.57 L357.80 582.80 L358.30 582.78 L358.80 582.98 L359.30 583.00 L359.80 583.32 L360.30 583.40 L360.80 583.48 L361.30 583.49 L361.80 583.34 L362.30 583.59 L362.80 583.53 L363.30 583.40 L363.80 583.65 L364.30 583.59 L364.80 583.58 L365.30 583.63 L365.80 583.51 L366.30 583.39 L366.80 583.59 L367.30 583.41 L367.80 583.51 L368.30 583.43 L368.80 583.39 L369.30 583.42 L369.80 583.37 L370.30 583.53 L370.80 583.60 L371.30 583.52 L371.80 583.56 L372.30 583.45 L372.80 583.55 L373.30 583.52 L373.80 583.44 L374.30 583.42 L374.80 583.51 L375.30 583.60 L375.80 583.47 L376.30 583.63 L376.80 583.41 L377.30 583.42 L377.80 583.52 L378.30 583.68 L378.80 583.41 L379.30 583.52 L379.80 583.56 L380.30 583.54 L380.80 583.39 L381.30 583.49 L381.80 583.49 L382.30 583.54 L382.80 583.42 L383.30 583.45 L383.80 583.40 L384.30 583.60 L384.80 583.59 L385.30 583.51 L385.80 583.52 L386.30 583.67 L386.80 583.67 L387.30 583.59 L387.80 583.60 L388.30 583.49 L388.80 583.47 L389.30 583.62 L389.80 583.45 L390.30 583.68 L390.80 583.43 L391.30 583.60 L391.80 583.53 L392.30 583.52 L392.80 583.48 L393.30 583.67 L393.80 583.53 L394.30 583.51 L394.80 583.64 L395.30 583.58 L395.80 583.63 L396.30 583.66 L396.80 583.68 L397.30 583.50 L397.80 583.72 L398.30 583.60 L398.80 583.68 L399.30 583.44 L399.80 583.60 L400.30 583.51 L400.80 583.68 L401.30 583.67 L401.80 583.70 L402.30 583.75 L402.80 583.66 L403.30 583.51 L403.80 583.62 L404.30 583.55 L404.80 583.50 L405.30 583.66 L405.60 583.90 Z" fill="#080808" stroke="#080808" stroke-width="0.4" stroke-linejoin="round"/>
<path d="M336.30 583.34 L336.80 583.46 L337.30 582.54 L337.80 583.13 L338.30 582.81 L338.80 581.00 L339.30 580.20 L339.80 579.75 L340.30 577.29 L340.80 575.78 L341.30 574.16 L341.80 572.91 L342.30 570.04 L342.80 568.06 L343.30 565.93 L343.80 563.91 L344.30 562.20 L344.80 561.32 L345.30 558.95 L345.80 559.79 L346.30 557.27 L346.80 556.84 L347.30 558.53 L347.80 558.49 L348.30 558.98 L348.80 560.19 L349.30 562.27 L349.80 564.85 L350.30 567.23 L350.80 568.87 L351.30 572.83 L351.80 574.22 L352.30 575.31 L352.80 576.27 L353.30 576.78 L353.80 579.04 L354.30 579.31 L354.80 578.61 L355.30 580.27 L355.80 579.43 L356.30 580.37 L356.80 580.17 L357.30 580.99 L357.80 580.70 L358.30 581.19 L358.80 580.78 L359.30 581.82 L359.80 582.26 L360.30 581.45 L360.80 582.68 L361.30 581.57 L361.80 582.11 L362.30 581.82 L362.80 582.99 L363.30 582.66 L363.80 582.07 L364.30 582.16 L364.80 582.47 L365.30 582.52 L365.80 582.35 L366.30 582.84 L366.80 582.86 L367.30 582.06 L367.80 583.02 L368.30 583.19 L368.80 582.71 L369.30 583.16 L369.80 582.58 L370.30 582.53 L370.80 582.59 L371.30 582.73 L371.80 583.12 L372.30 583.15 L372.80 582.94 L373.30 582.37 L373.80 583.23 L374.30 582.65 L374.80 582.60 L375.30 582.43 L375.80 583.10 L376.30 583.20 L376.80 582.50 L377.30 582.78 L377.80 583.43 L378.30 582.40 L378.80 582.84 L379.30 582.81 L379.80 582.18 L380.30 583.21 L380.80 583.43 L381.30 582.70 L381.80 582.45 L382.30 583.33 L382.80 582.60 L383.30 582.99 L383.80 582.71 L384.30 583.48 L384.80 582.88 L385.30 582.57 L385.80 583.13 L386.30 582.48 L386.80 583.34 L387.30 583.19 L387.80 583.56 L388.30 582.63 L388.80 583.27 L389.30 582.58 L389.80 583.60 L390.30 582.30 L390.80 582.29 L391.30 582.97 L391.80 582.42 L392.30 583.38 L392.80 582.90 L393.30 583.19 L393.80 583.36 L394.30 582.69 L394.80 582.39 L395.30 582.29 L395.80 583.51 L396.30 582.81 L396.80 583.58 L397.30 583.41 L397.80 583.31 L398.30 582.83 L398.80 583.27 L399.30 583.27 L399.80 582.84 L400.30 583.37 L400.80 582.47 L401.30 583.49 L401.80 582.43 L402.30 582.62 L402.80 583.65 L403.30 582.74 L403.80 582.93 L404.30 582.88 L404.80 582.93 L405.30 583.78" fill="none" stroke="#808080" stroke-width="1.5" stroke-linejoin="round"/>
<line x1="336.90" y1="530.50" x2="336.90" y2="583.90" stroke="#111" stroke-width="1.9"/>
<path d="M336.30 525.70H405.60V583.90" fill="none" stroke="#2a2a2a" stroke-width="0.95"/>
<line x1="336.30" y1="525.70" x2="336.30" y2="583.90" stroke="#1a1a1a" stroke-width="1.25"/>
<line x1="335.70" y1="583.90" x2="406.10" y2="583.90" stroke="#111" stroke-width="1.4"/>
<path d="M336.30 583.90v3.0 M341.52 583.90v1.7 M344.57 583.90v1.7 M346.73 583.90v1.7 M348.41 583.90v1.7 M349.78 583.90v1.7 M350.94 583.90v1.7 M351.95 583.90v1.7 M352.83 583.90v1.7 M353.62 583.90v3.0 M358.84 583.90v1.7 M361.89 583.90v1.7 M364.06 583.90v1.7 M365.73 583.90v1.7 M367.11 583.90v1.7 M368.27 583.90v1.7 M369.27 583.90v1.7 M370.16 583.90v1.7 M370.95 583.90v3.0 M376.17 583.90v1.7 M379.22 583.90v1.7 M381.38 583.90v1.7 M383.06 583.90v1.7 M384.43 583.90v1.7 M385.59 583.90v1.7 M386.60 583.90v1.7 M387.48 583.90v1.7 M388.28 583.90v3.0 M393.49 583.90v1.7 M396.54 583.90v1.7 M398.71 583.90v1.7 M400.38 583.90v1.7 M401.76 583.90v1.7 M402.92 583.90v1.7 M403.92 583.90v1.7 M404.81 583.90v1.7 M405.60 583.90v3.0" stroke="#111" stroke-width="0.85" fill="none"/>
<path d="M336.30 583.90h-3.0 M336.30 581.57h-1.6 M336.30 579.24h-1.6 M336.30 576.92h-1.6 M336.30 574.59h-1.6 M336.30 572.26h-3.0 M336.30 569.93h-1.6 M336.30 567.60h-1.6 M336.30 565.28h-1.6 M336.30 562.95h-1.6 M336.30 560.62h-3.0 M336.30 558.29h-1.6 M336.30 555.96h-1.6 M336.30 553.64h-1.6 M336.30 551.31h-1.6 M336.30 548.98h-3.0 M336.30 546.65h-1.6 M336.30 544.32h-1.6 M336.30 542.00h-1.6 M336.30 539.67h-1.6 M336.30 537.34h-3.0 M336.30 535.01h-1.6 M336.30 532.68h-1.6 M336.30 530.36h-1.6 M336.30 528.03h-1.6 M336.30 525.70h-3.0" stroke="#111" stroke-width="0.85" fill="none"/>
<text x="333.80" y="594.70" font-size="6.9" fill="#0a0a0a" stroke="#0a0a0a" stroke-width="0.5" textLength="5.5" lengthAdjust="spacingAndGlyphs">10</text>
<text x="339.50" y="591.30" font-size="5.5" fill="#0a0a0a" stroke="#0a0a0a" stroke-width="0.42" textLength="2.9" lengthAdjust="spacingAndGlyphs">0</text>
<text x="350.12" y="594.70" font-size="6.9" fill="#0a0a0a" stroke="#0a0a0a" stroke-width="0.5" textLength="5.5" lengthAdjust="spacingAndGlyphs">10</text>
<text x="355.82" y="591.30" font-size="5.5" fill="#0a0a0a" stroke="#0a0a0a" stroke-width="0.42" textLength="2.9" lengthAdjust="spacingAndGlyphs">1</text>
<text x="367.05" y="594.70" font-size="6.9" fill="#0a0a0a" stroke="#0a0a0a" stroke-width="0.5" textLength="5.5" lengthAdjust="spacingAndGlyphs">10</text>
<text x="372.75" y="591.30" font-size="5.5" fill="#0a0a0a" stroke="#0a0a0a" stroke-width="0.42" textLength="2.9" lengthAdjust="spacingAndGlyphs">2</text>
<text x="383.98" y="594.70" font-size="6.9" fill="#0a0a0a" stroke="#0a0a0a" stroke-width="0.5" textLength="5.5" lengthAdjust="spacingAndGlyphs">10</text>
<text x="389.68" y="591.30" font-size="5.5" fill="#0a0a0a" stroke="#0a0a0a" stroke-width="0.42" textLength="2.9" lengthAdjust="spacingAndGlyphs">3</text>
<text x="400.30" y="594.70" font-size="6.9" fill="#0a0a0a" stroke="#0a0a0a" stroke-width="0.5" textLength="5.5" lengthAdjust="spacingAndGlyphs">10</text>
<text x="406.00" y="591.30" font-size="5.5" fill="#0a0a0a" stroke="#0a0a0a" stroke-width="0.42" textLength="2.9" lengthAdjust="spacingAndGlyphs">4</text>
<text x="332.30" y="585.52" font-size="8.0" fill="#0a0a0a" stroke="#0a0a0a" stroke-width="0.4" textLength="3.25" lengthAdjust="spacingAndGlyphs" transform="rotate(-90 332.30 585.52)">0</text>
<text x="332.30" y="575.51" font-size="8.0" fill="#0a0a0a" stroke="#0a0a0a" stroke-width="0.4" textLength="6.50" lengthAdjust="spacingAndGlyphs" transform="rotate(-90 332.30 575.51)">20</text>
<text x="332.30" y="563.87" font-size="8.0" fill="#0a0a0a" stroke="#0a0a0a" stroke-width="0.4" textLength="6.50" lengthAdjust="spacingAndGlyphs" transform="rotate(-90 332.30 563.87)">40</text>
<text x="332.30" y="552.23" font-size="8.0" fill="#0a0a0a" stroke="#0a0a0a" stroke-width="0.4" textLength="6.50" lengthAdjust="spacingAndGlyphs" transform="rotate(-90 332.30 552.23)">60</text>
<text x="332.30" y="540.59" font-size="8.0" fill="#0a0a0a" stroke="#0a0a0a" stroke-width="0.4" textLength="6.50" lengthAdjust="spacingAndGlyphs" transform="rotate(-90 332.30 540.59)">80</text>
<text x="332.30" y="531.58" font-size="8.0" fill="#0a0a0a" stroke="#0a0a0a" stroke-width="0.4" textLength="9.75" lengthAdjust="spacingAndGlyphs" transform="rotate(-90 332.30 531.58)">100</text>
<line x1="354.50" y1="552.70" x2="404.80" y2="552.70" stroke="#111" stroke-width="1.3"/>
<line x1="354.50" y1="546.80" x2="354.50" y2="558.60" stroke="#111" stroke-width="1.4"/>
<line x1="404.70" y1="546.80" x2="404.70" y2="558.60" stroke="#111" stroke-width="1.4"/>
<text x="361.80" y="544.80" font-size="14.2" text-anchor="start" fill="#111" stroke="#111" stroke-width="0.27" textLength="36.20" lengthAdjust="spacingAndGlyphs" >9.7 %</text>
</g>
<path d="M119.8 560.6 q-2.6 1.6 0 3.6" fill="none" stroke="#777" stroke-width="0.9"/>
<path d="M322.8 563.2 q-2.4 1.5 0 3.4" fill="none" stroke="#777" stroke-width="0.9"/>
<text x="440.60" y="538.90" font-size="17.5" text-anchor="start" fill="#000" stroke="#000" stroke-width="0.18" font-weight="bold" transform="rotate(-90 440.60 538.90)" textLength="53.20" lengthAdjust="spacingAndGlyphs" >counts</text>
<path d="M435.1 579.6 V619.0 H424.7" fill="none" stroke="#000" stroke-width="2.3" stroke-linejoin="miter"/>
<path d="M435.1 562.0 L425.70000000000005 580.6 L444.5 580.6 Z" fill="#000"/>
<path d="M407.0 619.0 L425.7 609.9 L425.7 628.1 Z" fill="#000"/>
<text x="353.20" y="625.50" font-size="15.8" text-anchor="start" fill="#000" stroke="#000" stroke-width="0.30" font-weight="bold" textLength="34.30" lengthAdjust="spacingAndGlyphs" >DCF</text>
<text x="0.30" y="672.50" font-size="23.5" text-anchor="start" fill="#000" stroke="#000" stroke-width="0.24" font-weight="bold" >C</text>
<path d="M49.5 703.7 V861.4 H198.8" fill="none" stroke="#7c7c7c" stroke-width="1.05"/>
<path d="M49.5 861.40h-3 M49.5 830.02h-3 M49.5 798.64h-3 M49.5 767.26h-3 M49.5 735.88h-3 M49.5 704.50h-3" stroke="#7c7c7c" stroke-width="1.1" fill="none"/>
<text x="43.60" y="866.30" font-size="12.3" text-anchor="end" fill="#0a0a0a" stroke="#0a0a0a" stroke-width="0.40" >0</text>
<text x="43.60" y="834.92" font-size="12.3" text-anchor="end" fill="#0a0a0a" stroke="#0a0a0a" stroke-width="0.40" >20</text>
<text x="43.60" y="803.54" font-size="12.3" text-anchor="end" fill="#0a0a0a" stroke="#0a0a0a" stroke-width="0.40" >40</text>
<text x="43.60" y="772.16" font-size="12.3" text-anchor="end" fill="#0a0a0a" stroke="#0a0a0a" stroke-width="0.40" >60</text>
<text x="43.60" y="740.78" font-size="12.3" text-anchor="end" fill="#0a0a0a" stroke="#0a0a0a" stroke-width="0.40" >80</text>
<text x="43.60" y="709.40" font-size="12.3" text-anchor="end" fill="#0a0a0a" stroke="#0a0a0a" stroke-width="0.40" >100</text>
<text x="10.90" y="839.30" font-size="12.9" text-anchor="start" fill="#0a0a0a" stroke="#0a0a0a" stroke-width="0.35" transform="rotate(-90 10.90 839.30)" textLength="127.30" lengthAdjust="spacingAndGlyphs" >DCF positive cells (%)</text>
<rect x="79.40" y="856.07" width="9.40" height="4.93" fill="url(#gd)" stroke="#333" stroke-width="0.9"/>
<path d="M84.10 860.77V851.36M81.60 851.36h5.0M81.60 860.77h5.0" stroke="#333" stroke-width="1" fill="none"/>
<rect x="103.10" y="851.04" width="9.40" height="9.96" fill="url(#gd)" stroke="#333" stroke-width="0.9"/>
<path d="M107.80 854.18V847.91M105.30 847.91h5.0M105.30 854.18h5.0" stroke="#333" stroke-width="1" fill="none"/>
<rect x="134.35" y="703.24" width="9.40" height="157.76" fill="url(#gd)" stroke="#333" stroke-width="0.9"/>
<path d="M139.05 707.48V699.01M136.55 699.01h5.0M136.55 707.48h5.0" stroke="#333" stroke-width="1" fill="none"/>
<rect x="157.80" y="765.85" width="9.40" height="95.15" fill="url(#gd)" stroke="#333" stroke-width="0.9"/>
<path d="M162.50 766.48V765.22M160.00 765.22h5.0M160.00 766.48h5.0" stroke="#333" stroke-width="1" fill="none"/>
<rect x="181.80" y="791.27" width="9.40" height="69.73" fill="url(#gd)" stroke="#333" stroke-width="0.9"/>
<path d="M186.50 795.97V786.56M184.00 786.56h5.0M184.00 795.97h5.0" stroke="#333" stroke-width="1" fill="none"/>
<path d="M60.2 862.50V858.73M58.2 858.73h4M58.2 862.50h4" stroke="#333" stroke-width="1" fill="none"/>
<path d="M72.2 861.4v2.4 M96 861.4v2.4 M127 861.4v2.4 M151 861.4v2.4 M174.4 861.4v2.4 M198.4 861.4v2.4" stroke="#7c7c7c" stroke-width="1" fill="none"/>
<text x="60.60" y="879.30" font-size="12.6" text-anchor="middle" fill="#0a0a0a" stroke="#0a0a0a" stroke-width="0.38" >0</text>
<text x="89.90" y="873.40" font-size="12.7" text-anchor="end" fill="#0a0a0a" stroke="#0a0a0a" stroke-width="0.38" transform="rotate(-50 89.90 873.40)" >Eb 10</text>
<text x="112.90" y="872.80" font-size="12.7" text-anchor="end" fill="#0a0a0a" stroke="#0a0a0a" stroke-width="0.38" transform="rotate(-50 112.90 872.80)" >Eb 50</text>
<text x="139.20" y="879.30" font-size="12.6" text-anchor="middle" fill="#0a0a0a" stroke="#0a0a0a" stroke-width="0.38" >0</text>
<text x="170.40" y="874.90" font-size="12.7" text-anchor="end" fill="#0a0a0a" stroke="#0a0a0a" stroke-width="0.38" transform="rotate(-50 170.40 874.90)" >Eb 10</text>
<text x="193.80" y="874.90" font-size="12.7" text-anchor="end" fill="#0a0a0a" stroke="#0a0a0a" stroke-width="0.38" transform="rotate(-50 193.80 874.90)" >Eb 50</text>
<line x1="133.8" y1="909.4" x2="196.3" y2="909.4" stroke="#555" stroke-width="1.1"/>
<text x="151" y="929.6" font-size="15.2" fill="#0a0a0a" stroke="#0a0a0a" stroke-width="0.35" textLength="32" lengthAdjust="spacingAndGlyphs">H<tspan font-size="10" dy="3.2">2</tspan><tspan dy="-3.2">O</tspan><tspan font-size="10" dy="3.2">2</tspan></text>
<path d="M266.1 692.3 V860.8 H512" fill="none" stroke="#7c7c7c" stroke-width="1.05"/>
<path d="M266.1 860.80h-3 M266.1 830.24h-3 M266.1 799.68h-3 M266.1 769.12h-3 M266.1 738.56h-3 M266.1 708.00h-3" stroke="#7c7c7c" stroke-width="1.1" fill="none"/>
<text x="262.40" y="865.50" font-size="12.5" text-anchor="end" fill="#0a0a0a" stroke="#0a0a0a" stroke-width="0.40" >0</text>
<text x="263.60" y="834.94" font-size="12.5" text-anchor="end" fill="#0a0a0a" stroke="#0a0a0a" stroke-width="0.40" >10</text>
<text x="263.60" y="804.38" font-size="12.5" text-anchor="end" fill="#0a0a0a" stroke="#0a0a0a" stroke-width="0.40" >20</text>
<text x="263.60" y="773.82" font-size="12.5" text-anchor="end" fill="#0a0a0a" stroke="#0a0a0a" stroke-width="0.40" >30</text>
<text x="263.60" y="743.26" font-size="12.5" text-anchor="end" fill="#0a0a0a" stroke="#0a0a0a" stroke-width="0.40" >40</text>
<text x="263.60" y="712.70" font-size="12.5" text-anchor="end" fill="#0a0a0a" stroke="#0a0a0a" stroke-width="0.40" >50</text>
<text x="237.10" y="824.80" font-size="12.9" text-anchor="start" fill="#0a0a0a" stroke="#0a0a0a" stroke-width="0.35" transform="rotate(-90 237.10 824.80)" textLength="96.70" lengthAdjust="spacingAndGlyphs" >positive cells (%)</text>
<rect x="274.50" y="752.62" width="12.40" height="107.68" fill="url(#gk)"/>
<rect x="286.90" y="743.45" width="12.40" height="116.85" fill="url(#gl)"/>
<rect x="316.70" y="752.62" width="12.40" height="107.68" fill="url(#gk)"/>
<rect x="329.10" y="749.56" width="12.40" height="110.74" fill="url(#gl)"/>
<rect x="358.60" y="758.73" width="12.40" height="101.57" fill="url(#gk)"/>
<rect x="371.00" y="752.92" width="12.40" height="107.38" fill="url(#gl)"/>
<rect x="400.60" y="722.06" width="12.40" height="138.24" fill="url(#gk)"/>
<rect x="413.00" y="706.47" width="12.40" height="153.83" fill="url(#gl)"/>
<rect x="442.60" y="731.23" width="12.40" height="129.07" fill="url(#gk)"/>
<rect x="455.00" y="709.53" width="12.40" height="150.77" fill="url(#gl)"/>
<rect x="484.40" y="734.28" width="12.40" height="126.02" fill="url(#gk)"/>
<rect x="496.80" y="719.31" width="12.40" height="140.99" fill="url(#gl)"/>
<path d="M280.70 749.56V755.67M278.30 749.56h4.8M278.30 755.67h4.8" stroke="#2e2e2e" stroke-width="1" fill="none"/>
<path d="M293.10 738.87V748.03M290.70 738.87h4.8M290.70 748.03h4.8" stroke="#565656" stroke-width="1" fill="none"/>
<path d="M322.90 743.45V761.79M320.50 743.45h4.8M320.50 761.79h4.8" stroke="#2e2e2e" stroke-width="1" fill="none"/>
<path d="M335.30 744.98V754.15M332.90 744.98h4.8M332.90 754.15h4.8" stroke="#565656" stroke-width="1" fill="none"/>
<path d="M364.80 752.01V765.45M362.40 752.01h4.8M362.40 765.45h4.8" stroke="#2e2e2e" stroke-width="1" fill="none"/>
<path d="M377.20 746.81V759.04M374.80 746.81h4.8M374.80 759.04h4.8" stroke="#565656" stroke-width="1" fill="none"/>
<path d="M406.80 720.22V723.89M404.40 720.22h4.8M404.40 723.89h4.8" stroke="#2e2e2e" stroke-width="1" fill="none"/>
<path d="M419.20 705.56V707.39M416.80 705.56h4.8M416.80 707.39h4.8" stroke="#565656" stroke-width="1" fill="none"/>
<path d="M448.80 722.06V740.39M446.40 722.06h4.8M446.40 740.39h4.8" stroke="#2e2e2e" stroke-width="1" fill="none"/>
<path d="M461.20 705.25V713.81M458.80 705.25h4.8M458.80 713.81h4.8" stroke="#565656" stroke-width="1" fill="none"/>
<path d="M490.60 726.64V741.92M488.20 726.64h4.8M488.20 741.92h4.8" stroke="#2e2e2e" stroke-width="1" fill="none"/>
<path d="M503.00 714.42V724.20M500.60 714.42h4.8M500.60 724.20h4.8" stroke="#565656" stroke-width="1" fill="none"/>
<path d="M309.8 860.8v2.6 M351.8 860.8v2.6 M393.8 860.8v2.6 M435.8 860.8v2.6 M477.6 860.8v2.6" stroke="#7c7c7c" stroke-width="1" fill="none"/>
<rect x="294.7" y="670.2" width="12.2" height="11.4" fill="#3a3a3a"/>
<text x="312.20" y="680.50" font-size="13.4" text-anchor="start" fill="#0a0a0a" stroke="#0a0a0a" stroke-width="0.30" textLength="59.20" lengthAdjust="spacingAndGlyphs" >annexin V</text>
<rect x="294.7" y="693.6" width="12.2" height="11" fill="#a9a9a9"/>
<text x="312.2" y="703.1" font-size="13.4" fill="#0a0a0a" stroke="#0a0a0a" stroke-width="0.3" textLength="54.8" lengthAdjust="spacingAndGlyphs">DiOC<tspan font-size="10.4" dy="3.4">6</tspan><tspan dy="-3.4"> (3)</tspan></text>
<text x="289.70" y="878.90" font-size="12.8" text-anchor="middle" fill="#0a0a0a" stroke="#0a0a0a" stroke-width="0.38" >0</text>
<text x="341.00" y="877.10" font-size="13.1" text-anchor="end" fill="#0a0a0a" stroke="#0a0a0a" stroke-width="0.38" transform="rotate(-47 341.00 877.10)" >Se 0.06</text>
<text x="377.00" y="880.10" font-size="13.1" text-anchor="end" fill="#0a0a0a" stroke="#0a0a0a" stroke-width="0.38" transform="rotate(-47 377.00 880.10)" >Eb 50</text>
<text x="415.30" y="878.90" font-size="12.8" text-anchor="middle" fill="#0a0a0a" stroke="#0a0a0a" stroke-width="0.38" >0</text>
<text x="464.40" y="876.70" font-size="13.1" text-anchor="end" fill="#0a0a0a" stroke="#0a0a0a" stroke-width="0.38" transform="rotate(-47 464.40 876.70)" >Se 0.06</text>
<text x="500.60" y="880.10" font-size="13.1" text-anchor="end" fill="#0a0a0a" stroke="#0a0a0a" stroke-width="0.38" transform="rotate(-47 500.60 880.10)" >Eb 50</text>
<line x1="273.7" y1="912.8" x2="383.8" y2="912.8" stroke="#555" stroke-width="1.1"/>
<line x1="403" y1="912.8" x2="514.5" y2="912.8" stroke="#555" stroke-width="1.1"/>
<text x="286.30" y="937.50" font-size="14.8" text-anchor="start" fill="#0a0a0a" stroke="#0a0a0a" stroke-width="0.36" textLength="82.20" lengthAdjust="spacingAndGlyphs" >T3C1 (3 μM)</text>
<text x="412.30" y="937.50" font-size="14.8" text-anchor="start" fill="#0a0a0a" stroke="#0a0a0a" stroke-width="0.36" textLength="100.20" lengthAdjust="spacingAndGlyphs" >ATRA (1 μM) +</text>
<text x="420.40" y="954.50" font-size="14.8" text-anchor="start" fill="#0a0a0a" stroke="#0a0a0a" stroke-width="0.36" textLength="78.10" lengthAdjust="spacingAndGlyphs" >T3C1 (3 μM)</text>
</svg></body></html>
